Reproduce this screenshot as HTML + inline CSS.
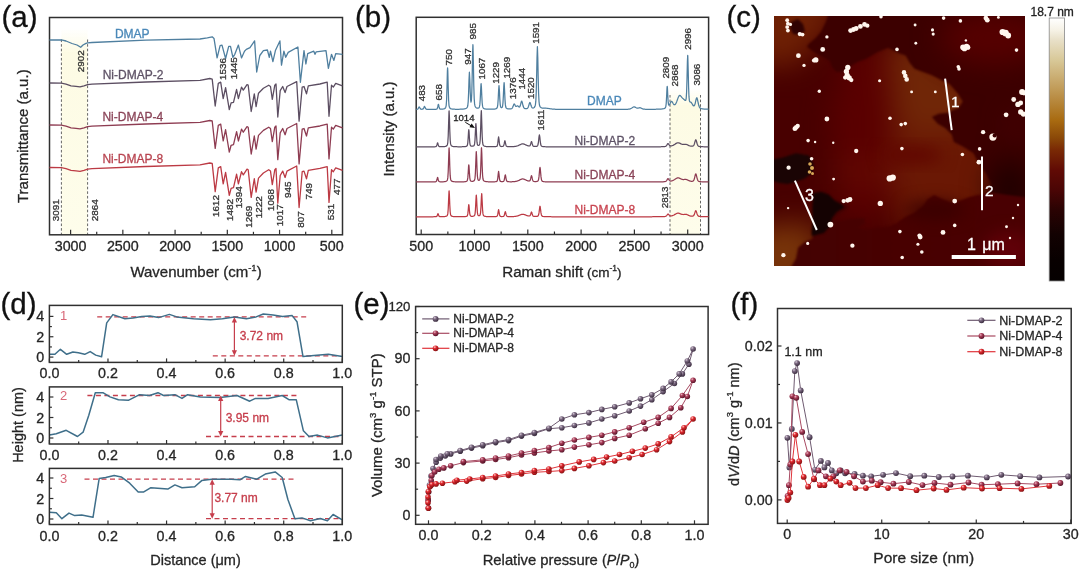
<!DOCTYPE html>
<html><head><meta charset="utf-8"><style>
html,body{margin:0;padding:0;background:#fff;width:1080px;height:574px;overflow:hidden}
svg{display:block;will-change:transform}
text{font-family:"Liberation Sans", sans-serif}
</style></head><body>
<svg width="1080" height="574" viewBox="0 0 1080 574">
<text x="1.50" y="27.40" font-size="29.5" text-anchor="start" fill="#111" stroke="#111" stroke-width="0.3">(a)</text>
<text x="355.00" y="27.40" font-size="29.5" text-anchor="start" fill="#111" stroke="#111" stroke-width="0.3">(b)</text>
<text x="726.40" y="27.40" font-size="29.5" text-anchor="start" fill="#111" stroke="#111" stroke-width="0.3">(c)</text>
<text x="0.50" y="314.20" font-size="29.5" text-anchor="start" fill="#111" stroke="#111" stroke-width="0.3">(d)</text>
<text x="353.50" y="314.20" font-size="29.5" text-anchor="start" fill="#111" stroke="#111" stroke-width="0.3">(e)</text>
<text x="730.50" y="314.20" font-size="29.5" text-anchor="start" fill="#111" stroke="#111" stroke-width="0.3">(f)</text>
<defs><linearGradient id="yb" x1="0" y1="0" x2="0" y2="1"><stop offset="0" stop-color="#fdfbe4" stop-opacity="0"/><stop offset="0.12" stop-color="#fdfbe4" stop-opacity="1"/><stop offset="1" stop-color="#fefdeb" stop-opacity="1"/></linearGradient></defs>
<rect x="61.40" y="28.00" width="26.20" height="206.80" fill="url(#yb)" stroke="none" stroke-width="1.0"/>
<line x1="61.40" y1="39.50" x2="61.40" y2="234.80" stroke="#555" stroke-width="0.9" stroke-dasharray="2.6,2"/>
<line x1="87.60" y1="39.50" x2="87.60" y2="234.80" stroke="#555" stroke-width="0.9" stroke-dasharray="2.6,2"/>
<rect x="49.50" y="17.50" width="293.00" height="217.30" fill="none" stroke="#303030" stroke-width="1.5"/>
<line x1="331.80" y1="234.80" x2="331.80" y2="229.80" stroke="#303030" stroke-width="1.2"/>
<line x1="305.68" y1="234.80" x2="305.68" y2="231.80" stroke="#303030" stroke-width="1.2"/>
<line x1="279.56" y1="234.80" x2="279.56" y2="229.80" stroke="#303030" stroke-width="1.2"/>
<line x1="253.44" y1="234.80" x2="253.44" y2="231.80" stroke="#303030" stroke-width="1.2"/>
<line x1="227.32" y1="234.80" x2="227.32" y2="229.80" stroke="#303030" stroke-width="1.2"/>
<line x1="201.20" y1="234.80" x2="201.20" y2="231.80" stroke="#303030" stroke-width="1.2"/>
<line x1="175.08" y1="234.80" x2="175.08" y2="229.80" stroke="#303030" stroke-width="1.2"/>
<line x1="148.96" y1="234.80" x2="148.96" y2="231.80" stroke="#303030" stroke-width="1.2"/>
<line x1="122.84" y1="234.80" x2="122.84" y2="229.80" stroke="#303030" stroke-width="1.2"/>
<line x1="96.72" y1="234.80" x2="96.72" y2="231.80" stroke="#303030" stroke-width="1.2"/>
<line x1="70.60" y1="234.80" x2="70.60" y2="229.80" stroke="#303030" stroke-width="1.2"/>
<text x="331.80" y="251.40" font-size="14.3" text-anchor="middle" fill="#262626" stroke="#262626" stroke-width="0.3">500</text>
<text x="279.56" y="251.40" font-size="14.3" text-anchor="middle" fill="#262626" stroke="#262626" stroke-width="0.3">1000</text>
<text x="227.32" y="251.40" font-size="14.3" text-anchor="middle" fill="#262626" stroke="#262626" stroke-width="0.3">1500</text>
<text x="175.08" y="251.40" font-size="14.3" text-anchor="middle" fill="#262626" stroke="#262626" stroke-width="0.3">2000</text>
<text x="122.84" y="251.40" font-size="14.3" text-anchor="middle" fill="#262626" stroke="#262626" stroke-width="0.3">2500</text>
<text x="70.60" y="251.40" font-size="14.3" text-anchor="middle" fill="#262626" stroke="#262626" stroke-width="0.3">3000</text>
<text x="130.40" y="277.30" font-size="15" text-anchor="start" fill="#262626" stroke="#262626" stroke-width="0.3">Wavenumber (cm<tspan font-size="9.5" dy="-6">-1</tspan><tspan dy="6">)</tspan></text>
<text x="28.20" y="136.20" font-size="15" text-anchor="middle" fill="#262626" stroke="#262626" stroke-width="0.3" transform="rotate(-90 28.20 136.20)">Transmittance (a.u.)</text>
<polyline points="49.50,40.00 61.40,39.80 66.00,41.00 72.00,43.50 77.00,45.00 80.70,47.30 83.00,45.00 86.00,43.40 87.60,42.80 92.00,42.50 146.00,40.20 200.00,39.00 207.30,37.80 212.20,36.80 214.00,38.40 217.10,57.90 220.10,45.70 222.00,45.10 223.80,51.80 225.60,58.50 228.70,46.30 230.50,46.30 232.90,57.30 234.80,54.30 238.40,45.10 241.50,57.90 244.50,51.20 246.30,49.40 250.00,47.60 254.60,40.90 256.70,72.00 259.80,55.50 263.40,50.60 267.40,50.00 269.30,57.30 270.50,51.20 272.90,61.60 275.40,50.60 279.90,40.90 281.50,65.20 283.90,51.20 285.70,57.30 288.20,52.40 297.90,47.00 300.40,82.30 304.00,50.60 305.90,64.00 307.70,53.70 313.80,51.20 315.00,54.30 316.20,51.80 326.00,50.60 328.40,68.30 331.50,54.30 333.90,60.40 335.70,53.70 342.50,54.30" fill="none" stroke="#4f7f9f" stroke-width="1.3" stroke-linejoin="round"/>
<polyline points="49.50,83.00 61.40,83.20 66.00,84.20 71.00,85.80 76.00,86.40 80.00,86.80 84.00,85.80 87.60,84.60 92.00,84.20 146.00,82.00 200.00,80.40 209.80,78.50 212.20,79.10 215.20,106.00 218.30,83.40 220.70,82.20 223.20,98.70 225.60,87.70 229.30,109.60 231.10,102.90 233.50,102.30 236.60,89.50 238.40,98.70 241.50,87.10 243.30,90.10 247.00,84.60 248.20,85.20 251.20,111.50 254.30,93.80 256.10,106.60 258.50,93.20 263.40,88.30 268.70,85.20 270.50,86.50 272.30,99.30 274.80,85.20 276.00,84.00 277.80,117.00 280.20,90.70 282.70,86.50 285.10,92.60 287.00,86.50 296.70,81.60 299.10,121.20 302.20,87.10 304.00,86.50 306.50,93.80 308.30,85.90 319.90,84.00 327.20,82.20 329.00,116.30 331.50,85.20 333.30,87.10 335.70,83.40 342.50,85.90" fill="none" stroke="#5c4e62" stroke-width="1.3" stroke-linejoin="round"/>
<polyline points="49.50,125.00 61.40,125.20 66.00,126.20 71.00,127.80 76.00,128.40 80.00,128.80 84.00,127.80 87.60,126.60 92.00,126.20 146.00,124.00 200.00,122.40 209.80,120.50 212.20,120.99 215.20,148.43 218.30,125.38 220.70,124.15 223.20,140.98 225.60,129.76 229.30,152.10 231.10,145.27 233.50,144.66 236.60,131.60 238.40,140.98 241.50,129.15 243.30,132.21 247.00,126.60 248.20,127.21 251.20,154.04 254.30,135.99 256.10,149.04 258.50,135.37 263.40,130.38 268.70,127.21 270.50,128.54 272.30,141.60 274.80,127.21 276.00,125.99 277.80,159.65 280.20,132.82 282.70,128.54 285.10,134.76 287.00,128.54 296.70,123.54 299.10,163.93 302.20,129.15 304.00,128.54 306.50,135.99 308.30,127.93 319.90,125.99 327.20,124.15 329.00,158.94 331.50,127.21 333.30,129.15 335.70,125.38 342.50,127.93" fill="none" stroke="#8e3c52" stroke-width="1.3" stroke-linejoin="round"/>
<polyline points="49.50,167.50 61.40,167.70 66.00,168.70 71.00,170.30 76.00,170.90 80.00,171.30 84.00,170.30 87.60,169.10 92.00,168.70 146.00,166.50 200.00,164.90 209.80,163.00 212.20,163.33 215.20,191.57 218.30,167.84 220.70,166.59 223.20,183.91 225.60,172.36 229.30,195.35 231.10,188.32 233.50,187.69 236.60,174.25 238.40,183.91 241.50,171.73 243.30,174.88 247.00,169.10 248.20,169.74 251.20,197.35 254.30,178.76 256.10,192.20 258.50,178.13 263.40,172.99 268.70,169.74 270.50,171.10 272.30,184.54 274.80,169.74 276.00,168.47 277.80,203.12 280.20,175.51 282.70,171.10 285.10,177.50 287.00,171.10 296.70,165.95 299.10,207.53 302.20,171.73 304.00,171.10 306.50,178.76 308.30,170.47 319.90,168.47 327.20,166.59 329.00,202.39 331.50,169.74 333.30,171.73 335.70,167.84 342.50,170.47" fill="none" stroke="#bc3a44" stroke-width="1.3" stroke-linejoin="round"/>
<text x="114.90" y="37.80" font-size="12" text-anchor="start" fill="#4a88b8" stroke="#4a88b8" stroke-width="0.3">DMAP</text>
<text x="102.70" y="78.70" font-size="12" text-anchor="start" fill="#5e5266" stroke="#5e5266" stroke-width="0.3">Ni-DMAP-2</text>
<text x="102.40" y="120.90" font-size="12" text-anchor="start" fill="#8a4458" stroke="#8a4458" stroke-width="0.3">Ni-DMAP-4</text>
<text x="102.40" y="162.70" font-size="12" text-anchor="start" fill="#b84450" stroke="#b84450" stroke-width="0.3">Ni-DMAP-8</text>
<text x="59.00" y="221.20" font-size="9.9" text-anchor="start" fill="#333" stroke="#333" stroke-width="0.3" transform="rotate(-90 59.00 221.20)">3091</text>
<text x="98.00" y="221.20" font-size="9.9" text-anchor="start" fill="#333" stroke="#333" stroke-width="0.3" transform="rotate(-90 98.00 221.20)">2864</text>
<text x="84.50" y="72.30" font-size="9.9" text-anchor="start" fill="#333" stroke="#333" stroke-width="0.3" transform="rotate(-90 84.50 72.30)">2902</text>
<text x="218.80" y="216.90" font-size="9.9" text-anchor="start" fill="#333" stroke="#333" stroke-width="0.3" transform="rotate(-90 218.80 216.90)">1612</text>
<text x="232.90" y="220.90" font-size="9.9" text-anchor="start" fill="#333" stroke="#333" stroke-width="0.3" transform="rotate(-90 232.90 220.90)">1482</text>
<text x="242.30" y="208.20" font-size="9.9" text-anchor="start" fill="#333" stroke="#333" stroke-width="0.3" transform="rotate(-90 242.30 208.20)">1394</text>
<text x="252.30" y="227.70" font-size="9.9" text-anchor="start" fill="#333" stroke="#333" stroke-width="0.3" transform="rotate(-90 252.30 227.70)">1269</text>
<text x="262.00" y="218.30" font-size="9.9" text-anchor="start" fill="#333" stroke="#333" stroke-width="0.3" transform="rotate(-90 262.00 218.30)">1222</text>
<text x="274.50" y="210.90" font-size="9.9" text-anchor="start" fill="#333" stroke="#333" stroke-width="0.3" transform="rotate(-90 274.50 210.90)">1068</text>
<text x="283.20" y="226.30" font-size="9.9" text-anchor="start" fill="#333" stroke="#333" stroke-width="0.3" transform="rotate(-90 283.20 226.30)">1017</text>
<text x="291.30" y="198.10" font-size="9.9" text-anchor="start" fill="#333" stroke="#333" stroke-width="0.3" transform="rotate(-90 291.30 198.10)">945</text>
<text x="304.00" y="227.70" font-size="9.9" text-anchor="start" fill="#333" stroke="#333" stroke-width="0.3" transform="rotate(-90 304.00 227.70)">807</text>
<text x="312.00" y="199.50" font-size="9.9" text-anchor="start" fill="#333" stroke="#333" stroke-width="0.3" transform="rotate(-90 312.00 199.50)">749</text>
<text x="333.60" y="220.30" font-size="9.9" text-anchor="start" fill="#333" stroke="#333" stroke-width="0.3" transform="rotate(-90 333.60 220.30)">531</text>
<text x="339.60" y="195.00" font-size="9.9" text-anchor="start" fill="#333" stroke="#333" stroke-width="0.3" transform="rotate(-90 339.60 195.00)">477</text>
<text x="226.20" y="79.90" font-size="9.9" text-anchor="start" fill="#333" stroke="#333" stroke-width="0.3" transform="rotate(-90 226.20 79.90)">1536</text>
<text x="237.20" y="79.30" font-size="9.9" text-anchor="start" fill="#333" stroke="#333" stroke-width="0.3" transform="rotate(-90 237.20 79.30)">1445</text>
<rect x="670.00" y="88.00" width="30.50" height="146.50" fill="url(#yb)" stroke="none" stroke-width="1.0"/>
<line x1="670.00" y1="95.00" x2="670.00" y2="234.50" stroke="#555" stroke-width="0.9" stroke-dasharray="2.6,2"/>
<line x1="700.50" y1="95.00" x2="700.50" y2="234.50" stroke="#555" stroke-width="0.9" stroke-dasharray="2.6,2"/>
<rect x="416.20" y="17.30" width="292.40" height="217.20" fill="none" stroke="#303030" stroke-width="1.5"/>
<line x1="421.20" y1="234.50" x2="421.20" y2="229.50" stroke="#303030" stroke-width="1.2"/>
<line x1="447.85" y1="234.50" x2="447.85" y2="231.50" stroke="#303030" stroke-width="1.2"/>
<line x1="474.50" y1="234.50" x2="474.50" y2="229.50" stroke="#303030" stroke-width="1.2"/>
<line x1="501.15" y1="234.50" x2="501.15" y2="231.50" stroke="#303030" stroke-width="1.2"/>
<line x1="527.80" y1="234.50" x2="527.80" y2="229.50" stroke="#303030" stroke-width="1.2"/>
<line x1="554.45" y1="234.50" x2="554.45" y2="231.50" stroke="#303030" stroke-width="1.2"/>
<line x1="581.10" y1="234.50" x2="581.10" y2="229.50" stroke="#303030" stroke-width="1.2"/>
<line x1="607.75" y1="234.50" x2="607.75" y2="231.50" stroke="#303030" stroke-width="1.2"/>
<line x1="634.40" y1="234.50" x2="634.40" y2="229.50" stroke="#303030" stroke-width="1.2"/>
<line x1="661.05" y1="234.50" x2="661.05" y2="231.50" stroke="#303030" stroke-width="1.2"/>
<line x1="687.70" y1="234.50" x2="687.70" y2="229.50" stroke="#303030" stroke-width="1.2"/>
<text x="421.20" y="251.40" font-size="14.3" text-anchor="middle" fill="#262626" stroke="#262626" stroke-width="0.3">500</text>
<text x="474.50" y="251.40" font-size="14.3" text-anchor="middle" fill="#262626" stroke="#262626" stroke-width="0.3">1000</text>
<text x="527.80" y="251.40" font-size="14.3" text-anchor="middle" fill="#262626" stroke="#262626" stroke-width="0.3">1500</text>
<text x="581.10" y="251.40" font-size="14.3" text-anchor="middle" fill="#262626" stroke="#262626" stroke-width="0.3">2000</text>
<text x="634.40" y="251.40" font-size="14.3" text-anchor="middle" fill="#262626" stroke="#262626" stroke-width="0.3">2500</text>
<text x="687.70" y="251.40" font-size="14.3" text-anchor="middle" fill="#262626" stroke="#262626" stroke-width="0.3">3000</text>
<text x="502.20" y="277.40" font-size="15.2" text-anchor="start" fill="#262626" stroke="#262626" stroke-width="0.3">Raman shift<tspan font-size="13.5"> (cm</tspan><tspan font-size="8.5" dy="-6">-1</tspan><tspan font-size="13.5" dy="6">)</tspan></text>
<text x="393.70" y="129.00" font-size="15" text-anchor="middle" fill="#262626" stroke="#262626" stroke-width="0.3" transform="rotate(-90 393.70 129.00)">Intensity (a.u.)</text>
<polyline points="416.20,109.39 416.60,109.36 417.00,109.32 417.40,109.23 417.80,109.01 418.20,108.55 418.60,107.80 419.00,107.07 419.20,106.94 419.40,107.06 419.80,107.78 420.20,108.52 420.60,108.97 421.00,109.17 421.40,109.24 421.80,109.26 422.20,109.24 422.60,109.17 423.00,108.97 423.40,108.51 423.80,107.69 424.20,106.75 424.50,106.44 424.60,106.47 425.00,107.21 425.40,108.16 425.80,108.81 426.20,109.12 426.60,109.26 427.00,109.31 427.40,109.35 427.80,109.37 428.20,109.38 428.60,109.39 429.00,109.40 429.40,109.40 429.80,109.40 430.20,109.40 430.60,109.41 431.00,109.40 431.40,109.40 431.80,109.40 432.20,109.40 432.60,109.39 433.00,109.39 433.40,109.38 433.80,109.38 434.20,109.37 434.60,109.35 435.00,109.33 435.40,109.31 435.80,109.28 436.20,109.22 436.60,109.13 437.00,108.90 437.40,108.23 437.80,106.69 438.20,104.75 438.40,104.37 438.60,104.74 439.00,106.66 439.40,108.18 439.80,108.84 440.20,109.05 440.60,109.13 441.00,109.15 441.40,109.16 441.80,109.15 442.20,109.13 442.60,109.10 443.00,109.05 443.40,108.99 443.80,108.90 444.20,108.78 444.60,108.61 445.00,108.36 445.40,107.96 445.80,107.24 446.20,105.37 446.60,99.80 447.00,87.08 447.40,71.08 447.60,67.93 447.80,71.08 448.20,87.07 448.60,99.80 449.00,105.37 449.40,107.23 449.80,107.96 450.20,108.35 450.60,108.60 451.00,108.78 451.40,108.90 451.80,108.99 452.20,109.05 452.60,109.10 453.00,109.14 453.40,109.17 453.80,109.20 454.20,109.22 454.60,109.23 455.00,109.25 455.40,109.25 455.80,109.26 456.20,109.27 456.60,109.27 457.00,109.27 457.40,109.27 457.80,109.27 458.20,109.26 458.60,109.26 459.00,109.25 459.40,109.25 459.80,109.24 460.20,109.23 460.60,109.21 461.00,109.20 461.40,109.18 461.80,109.16 462.20,109.13 462.60,109.11 463.00,109.07 463.40,109.03 463.80,108.99 464.20,108.93 464.60,108.86 465.00,108.77 465.40,108.66 465.80,108.51 466.20,108.32 466.60,108.05 467.00,107.66 467.40,106.98 467.80,105.48 468.20,101.58 468.60,92.97 469.00,80.10 469.40,72.24 469.80,79.57 470.20,91.83 470.60,99.63 471.00,102.13 471.40,100.31 471.80,92.42 472.20,75.29 472.60,52.84 472.90,44.71 473.00,45.76 473.40,64.22 473.80,85.76 474.20,98.54 474.60,103.89 475.00,105.91 475.40,106.83 475.80,107.37 476.20,107.72 476.60,107.95 477.00,108.10 477.40,108.18 477.80,108.20 478.20,108.15 478.60,108.02 479.00,107.72 479.40,106.97 479.80,104.90 480.20,99.87 480.60,91.35 481.00,84.06 481.10,83.66 481.40,86.96 481.80,96.01 482.20,102.99 482.60,106.39 483.00,107.69 483.40,108.22 483.80,108.50 484.20,108.69 484.60,108.81 485.00,108.91 485.40,108.98 485.80,109.03 486.20,109.08 486.60,109.11 487.00,109.14 487.40,109.16 487.80,109.18 488.20,109.19 488.60,109.20 489.00,109.21 489.40,109.21 489.80,109.22 490.20,109.22 490.60,109.22 491.00,109.22 491.40,109.21 491.80,109.20 492.20,109.19 492.60,109.18 493.00,109.16 493.40,109.14 493.80,109.11 494.20,109.08 494.60,109.03 495.00,108.97 495.40,108.89 495.80,108.78 496.20,108.63 496.60,108.40 497.00,107.99 497.40,107.05 497.80,104.55 498.20,98.99 498.60,90.67 499.00,85.65 499.40,90.60 499.80,98.84 500.20,104.31 500.60,106.70 501.00,107.50 501.40,107.71 501.80,107.65 502.20,107.26 502.60,106.02 503.00,102.58 503.40,95.40 503.80,86.05 504.10,82.66 504.20,83.09 504.60,90.71 505.00,99.62 505.40,104.90 505.80,107.11 506.20,107.94 506.60,108.32 507.00,108.54 507.40,108.69 507.80,108.79 508.20,108.86 508.60,108.91 509.00,108.94 509.40,108.95 509.80,108.95 510.20,108.94 510.60,108.91 511.00,108.85 511.40,108.74 511.80,108.52 512.20,108.14 512.60,107.52 513.00,106.61 513.40,105.50 513.80,104.46 514.20,103.95 514.60,104.25 515.00,105.05 515.40,105.83 515.80,106.32 516.20,106.43 516.60,106.25 517.00,105.97 517.40,105.79 517.50,105.79 517.80,105.89 518.20,106.23 518.60,106.65 519.00,106.98 519.40,107.04 519.80,106.70 520.20,105.85 520.60,104.48 521.00,102.83 521.40,101.45 521.70,101.08 521.80,101.13 522.20,102.14 522.60,103.84 523.00,105.52 523.40,106.83 523.80,107.71 524.20,108.22 524.60,108.49 525.00,108.63 525.40,108.70 525.80,108.72 526.20,108.71 526.60,108.66 527.00,108.55 527.40,108.33 527.80,107.91 528.20,107.20 528.60,106.13 529.00,104.75 529.40,103.37 529.80,102.55 529.90,102.50 530.20,102.81 530.60,103.94 531.00,105.32 531.40,106.50 531.80,107.32 532.20,107.79 532.60,108.00 533.00,108.03 533.40,107.95 533.80,107.77 534.20,107.47 534.60,107.03 535.00,106.30 535.40,104.86 535.80,101.42 536.20,93.32 536.60,77.95 537.00,57.79 537.40,46.68 537.80,57.76 538.20,77.90 538.60,93.25 539.00,101.33 539.40,104.74 539.80,106.16 540.20,106.87 540.60,107.31 541.00,107.60 541.40,107.79 541.80,107.93 542.20,108.02 542.60,108.07 543.00,108.11 543.40,108.13 543.80,108.15 544.20,108.16 544.60,108.16 545.00,108.17 545.40,108.18 545.80,108.20 546.00,108.21 546.20,108.22 546.60,108.25 547.00,108.29 547.40,108.34 547.80,108.39 548.20,108.44 548.60,108.50 549.00,108.56 549.40,108.63 549.80,108.69 550.20,108.75 550.60,108.81 551.00,108.86 551.40,108.92 551.80,108.97 552.20,109.01 552.60,109.06 553.00,109.10 553.40,109.13 553.80,109.16 554.20,109.19 554.60,109.22 555.00,109.24 555.40,109.26 555.80,109.28 556.20,109.30 556.60,109.31 557.00,109.33 557.40,109.34 557.80,109.35 558.20,109.35 558.60,109.36 559.00,109.37 559.40,109.37 559.80,109.38 560.20,109.38 560.60,109.39 561.00,109.39 561.40,109.40 561.80,109.40 562.20,109.40 562.60,109.41 563.00,109.41 563.40,109.41 563.80,109.41 564.20,109.42 564.60,109.42 565.00,109.42 565.40,109.42 565.80,109.42 566.20,109.43 566.60,109.43 567.00,109.43 567.40,109.43 567.80,109.43 568.20,109.43 568.60,109.43 569.00,109.44 569.40,109.44 569.80,109.44 570.20,109.44 570.60,109.44 571.00,109.44 571.40,109.44 571.80,109.44 572.20,109.44 572.60,109.45 573.00,109.45 573.40,109.45 573.80,109.45 574.20,109.45 574.60,109.45 575.00,109.45 575.40,109.45 575.80,109.45 576.20,109.45 576.60,109.45 577.00,109.45 577.40,109.45 577.80,109.45 578.20,109.45 578.60,109.45 579.00,109.45 579.40,109.46 579.80,109.46 580.20,109.46 580.60,109.46 581.00,109.46 581.40,109.46 581.80,109.46 582.20,109.46 582.60,109.46 583.00,109.46 583.40,109.46 583.80,109.46 584.20,109.46 584.60,109.46 585.00,109.46 585.40,109.46 585.80,109.46 586.20,109.46 586.60,109.46 587.00,109.46 587.40,109.46 587.80,109.46 588.20,109.46 588.60,109.46 589.00,109.46 589.40,109.46 589.80,109.46 590.20,109.46 590.60,109.46 591.00,109.46 591.40,109.46 591.80,109.46 592.20,109.46 592.60,109.46 593.00,109.46 593.40,109.46 593.80,109.46 594.20,109.46 594.60,109.46 595.00,109.46 595.40,109.46 595.80,109.46 596.20,109.46 596.60,109.46 597.00,109.46 597.40,109.46 597.80,109.46 598.20,109.46 598.60,109.46 599.00,109.46 599.40,109.46 599.80,109.46 600.20,109.46 600.60,109.46 601.00,109.46 601.40,109.46 601.80,109.46 602.20,109.46 602.60,109.46 603.00,109.46 603.40,109.46 603.80,109.46 604.20,109.46 604.60,109.46 605.00,109.46 605.40,109.46 605.80,109.46 606.20,109.45 606.60,109.45 607.00,109.45 607.40,109.45 607.80,109.45 608.20,109.45 608.60,109.45 609.00,109.45 609.40,109.45 609.80,109.45 610.20,109.45 610.60,109.45 611.00,109.45 611.40,109.45 611.80,109.45 612.20,109.45 612.60,109.45 613.00,109.44 613.40,109.44 613.80,109.44 614.20,109.44 614.60,109.44 615.00,109.44 615.40,109.44 615.80,109.44 616.20,109.44 616.60,109.43 617.00,109.43 617.40,109.43 617.80,109.43 618.20,109.43 618.60,109.43 619.00,109.42 619.40,109.42 619.80,109.42 620.20,109.42 620.60,109.41 621.00,109.41 621.40,109.41 621.80,109.40 622.20,109.40 622.60,109.40 623.00,109.39 623.40,109.39 623.80,109.38 624.20,109.37 624.60,109.37 625.00,109.36 625.40,109.35 625.80,109.34 626.20,109.33 626.60,109.32 627.00,109.30 627.40,109.28 627.80,109.26 628.20,109.22 628.60,109.18 629.00,109.12 629.40,109.04 629.80,108.93 630.20,108.80 630.60,108.64 631.00,108.44 631.40,108.22 631.80,107.97 632.20,107.70 632.60,107.43 633.00,107.19 633.40,107.00 633.80,106.89 634.00,106.87 634.20,106.88 634.60,106.96 635.00,107.13 635.40,107.34 635.80,107.57 636.20,107.78 636.60,107.96 637.00,108.08 637.40,108.15 637.80,108.15 638.20,108.09 638.60,108.00 639.00,107.88 639.40,107.78 639.80,107.72 640.00,107.73 640.20,107.76 640.60,107.87 641.00,108.05 641.40,108.26 641.80,108.46 642.20,108.65 642.60,108.81 643.00,108.95 643.40,109.05 643.80,109.12 644.20,109.17 644.60,109.21 645.00,109.24 645.40,109.26 645.80,109.27 646.20,109.28 646.60,109.29 647.00,109.29 647.40,109.30 647.80,109.30 648.20,109.30 648.60,109.31 649.00,109.31 649.40,109.31 649.80,109.31 650.20,109.31 650.60,109.30 651.00,109.30 651.40,109.30 651.80,109.30 652.20,109.30 652.60,109.29 653.00,109.29 653.40,109.28 653.80,109.28 654.20,109.27 654.60,109.27 655.00,109.26 655.40,109.25 655.80,109.25 656.20,109.24 656.60,109.23 657.00,109.22 657.40,109.21 657.80,109.20 658.20,109.18 658.60,109.17 659.00,109.16 659.40,109.14 659.80,109.12 660.20,109.10 660.60,109.07 661.00,109.05 661.40,109.01 661.80,108.98 662.20,108.94 662.60,108.88 663.00,108.82 663.40,108.75 663.80,108.65 664.20,108.53 664.60,108.35 665.00,108.10 665.40,107.66 665.80,106.60 666.20,103.57 666.60,96.71 667.00,88.09 667.20,86.32 667.40,87.88 667.80,96.08 668.20,102.44 668.60,104.87 669.00,105.21 669.40,104.79 669.80,104.09 670.20,103.24 670.60,102.40 671.00,101.71 671.40,101.34 671.50,101.31 671.80,101.38 672.20,101.81 672.60,102.47 673.00,103.20 673.40,103.87 673.80,104.38 674.20,104.68 674.60,104.75 675.00,104.58 675.40,104.19 675.80,103.59 676.20,102.82 676.60,101.89 677.00,100.86 677.40,99.77 677.80,98.66 678.20,97.60 678.60,96.69 679.00,95.98 679.40,95.55 679.80,95.41 680.20,95.54 680.60,95.87 681.00,96.33 681.40,96.83 681.80,97.32 682.20,97.78 682.60,98.18 683.00,98.55 683.40,98.89 683.80,99.25 684.00,99.44 684.20,99.63 684.60,100.00 685.00,100.33 685.40,100.49 685.80,100.16 686.20,98.28 686.60,92.22 687.00,79.04 687.40,61.69 687.70,55.41 687.80,56.23 688.20,70.62 688.60,87.27 689.00,96.93 689.40,100.68 689.80,101.76 690.20,102.01 690.60,102.09 691.00,102.29 691.40,102.69 691.80,103.29 692.20,104.00 692.60,104.69 693.00,105.29 693.40,105.70 693.80,105.86 694.20,105.67 694.60,105.07 695.00,103.99 695.40,102.48 695.80,100.70 696.20,98.99 696.60,97.91 696.80,97.79 697.00,97.98 697.40,99.19 697.80,101.04 698.20,103.00 698.60,104.73 699.00,106.09 699.40,107.06 699.80,107.71 700.20,108.12 700.60,108.38 701.00,108.55 701.40,108.67 701.80,108.76 702.20,108.84 702.60,108.89 703.00,108.94 703.40,108.99 703.80,109.02 704.20,109.06 704.60,109.08 705.00,109.11 705.40,109.13 705.80,109.15 706.20,109.17 706.60,109.19 707.00,109.20 707.40,109.22 707.80,109.23 708.20,109.24 708.60,109.25" fill="none" stroke="#4f7f9f" stroke-width="1.25" stroke-linejoin="round"/>
<polyline points="416.20,146.89 416.60,146.88 417.00,146.88 417.40,146.88 417.80,146.88 418.20,146.88 418.60,146.88 419.00,146.88 419.40,146.88 419.80,146.88 420.20,146.88 420.60,146.88 421.00,146.88 421.40,146.88 421.80,146.88 422.20,146.88 422.60,146.88 423.00,146.88 423.40,146.88 423.80,146.88 424.20,146.88 424.60,146.88 425.00,146.87 425.40,146.87 425.80,146.87 426.20,146.87 426.60,146.87 427.00,146.87 427.40,146.87 427.80,146.87 428.20,146.87 428.60,146.86 429.00,146.86 429.40,146.86 429.80,146.86 430.20,146.86 430.60,146.85 431.00,146.85 431.40,146.85 431.80,146.84 432.20,146.84 432.60,146.83 433.00,146.83 433.40,146.82 433.80,146.81 434.20,146.80 434.60,146.78 435.00,146.75 435.40,146.71 435.80,146.64 436.20,146.46 436.60,145.92 437.00,144.69 437.40,143.14 437.60,142.84 437.80,143.14 438.20,144.67 438.60,145.90 439.00,146.43 439.40,146.60 439.80,146.67 440.20,146.70 440.60,146.71 441.00,146.72 441.40,146.72 441.80,146.72 442.20,146.71 442.60,146.70 443.00,146.68 443.40,146.66 443.80,146.63 444.20,146.59 444.60,146.54 445.00,146.48 445.40,146.40 445.80,146.28 446.20,146.12 446.60,145.87 447.00,145.48 447.40,144.71 447.80,142.57 448.20,136.40 448.60,123.84 449.00,111.59 449.10,110.87 449.40,116.58 449.80,130.85 450.20,140.21 450.60,143.93 451.00,145.17 451.40,145.70 451.80,146.00 452.20,146.20 452.60,146.34 453.00,146.44 453.40,146.51 453.80,146.56 454.20,146.61 454.60,146.64 455.00,146.67 455.40,146.69 455.80,146.70 456.20,146.72 456.60,146.73 457.00,146.74 457.40,146.75 457.80,146.75 458.20,146.76 458.60,146.76 459.00,146.76 459.40,146.76 459.80,146.76 460.20,146.76 460.60,146.76 461.00,146.76 461.40,146.75 461.80,146.75 462.20,146.74 462.60,146.73 463.00,146.72 463.40,146.70 463.80,146.68 464.20,146.66 464.60,146.63 465.00,146.59 465.40,146.54 465.80,146.46 466.20,146.35 466.60,146.19 467.00,145.88 467.40,145.11 467.80,142.82 468.20,137.60 468.60,131.04 468.80,129.74 469.00,131.03 469.40,137.57 469.80,142.76 470.20,145.03 470.60,145.77 471.00,146.04 471.40,146.16 471.80,146.22 472.20,146.23 472.60,146.20 473.00,146.12 473.40,145.99 473.80,145.75 474.20,145.26 474.60,143.89 475.00,139.94 475.40,131.90 475.80,124.05 475.90,123.59 476.20,127.22 476.60,136.29 477.00,142.23 477.40,144.53 477.80,145.23 478.20,145.43 478.60,145.43 479.00,145.25 479.40,144.81 479.80,143.64 480.20,139.97 480.60,130.64 481.00,116.40 481.30,110.71 481.40,111.43 481.80,123.70 482.20,136.28 482.60,142.46 483.00,144.61 483.40,145.39 483.80,145.79 484.20,146.04 484.60,146.21 485.00,146.33 485.40,146.42 485.80,146.49 486.20,146.54 486.60,146.58 487.00,146.61 487.40,146.64 487.80,146.66 488.20,146.68 488.60,146.69 489.00,146.70 489.40,146.71 489.80,146.72 490.20,146.73 490.60,146.73 491.00,146.74 491.40,146.74 491.80,146.74 492.20,146.74 492.60,146.74 493.00,146.73 493.40,146.73 493.80,146.72 494.20,146.70 494.60,146.69 495.00,146.66 495.40,146.63 495.80,146.58 496.20,146.50 496.60,146.37 497.00,146.11 497.40,145.32 497.80,143.18 498.20,139.36 498.60,136.79 499.00,139.35 499.40,143.16 499.80,145.29 500.20,146.07 500.60,146.32 501.00,146.43 501.40,146.49 501.80,146.51 502.20,146.50 502.60,146.46 503.00,146.36 503.40,146.07 503.80,145.28 504.20,143.65 504.60,141.53 504.90,140.76 505.00,140.86 505.40,142.58 505.80,144.60 506.20,145.79 506.60,146.29 507.00,146.47 507.40,146.56 507.80,146.61 508.20,146.64 508.60,146.66 509.00,146.67 509.40,146.68 509.80,146.68 510.20,146.69 510.60,146.69 511.00,146.68 511.40,146.68 511.80,146.67 512.20,146.66 512.60,146.64 513.00,146.62 513.40,146.60 513.80,146.57 514.20,146.54 514.60,146.49 515.00,146.44 515.40,146.38 515.80,146.31 516.20,146.22 516.60,146.12 517.00,146.01 517.40,145.88 517.80,145.74 518.20,145.58 518.60,145.40 519.00,145.22 519.40,145.03 519.80,144.83 520.20,144.63 520.60,144.44 521.00,144.26 521.40,144.10 521.80,143.98 522.20,143.89 522.60,143.85 522.70,143.85 523.00,143.86 523.40,143.92 523.80,144.02 524.20,144.16 524.60,144.33 525.00,144.51 525.40,144.70 525.80,144.89 526.20,145.08 526.60,145.26 527.00,145.43 527.40,145.58 527.80,145.71 528.20,145.82 528.60,145.91 529.00,145.96 529.40,145.95 529.80,145.81 530.20,145.35 530.60,144.32 531.00,142.79 531.40,141.60 531.50,141.54 531.80,142.10 532.20,143.69 532.60,145.08 533.00,145.87 533.40,146.22 533.80,146.37 534.20,146.43 534.60,146.46 535.00,146.47 535.40,146.47 535.80,146.44 536.20,146.40 536.60,146.32 537.00,146.19 537.40,145.93 537.80,145.27 538.20,143.73 538.60,140.78 539.00,136.92 539.40,134.79 539.80,136.93 540.20,140.81 540.60,143.76 541.00,145.32 541.40,145.99 541.80,146.27 542.20,146.42 542.60,146.51 543.00,146.58 543.40,146.63 543.80,146.66 544.20,146.69 544.60,146.72 545.00,146.73 545.40,146.75 545.80,146.76 546.20,146.77 546.60,146.78 547.00,146.79 547.40,146.80 547.80,146.81 548.20,146.81 548.60,146.82 549.00,146.82 549.40,146.82 549.80,146.83 550.20,146.83 550.60,146.83 551.00,146.84 551.40,146.84 551.80,146.84 552.20,146.84 552.60,146.85 553.00,146.85 553.40,146.85 553.80,146.85 554.20,146.85 554.60,146.85 555.00,146.86 555.40,146.86 555.80,146.86 556.20,146.86 556.60,146.86 557.00,146.86 557.40,146.86 557.80,146.86 558.20,146.86 558.60,146.87 559.00,146.87 559.40,146.87 559.80,146.87 560.20,146.87 560.60,146.87 561.00,146.87 561.40,146.87 561.80,146.87 562.20,146.87 562.60,146.87 563.00,146.87 563.40,146.87 563.80,146.87 564.20,146.87 564.60,146.87 565.00,146.88 565.40,146.88 565.80,146.88 566.20,146.88 566.60,146.88 567.00,146.88 567.40,146.88 567.80,146.88 568.20,146.88 568.60,146.88 569.00,146.88 569.40,146.88 569.80,146.88 570.20,146.88 570.60,146.88 571.00,146.88 571.40,146.88 571.80,146.88 572.20,146.88 572.60,146.88 573.00,146.88 573.40,146.88 573.80,146.88 574.20,146.88 574.60,146.88 575.00,146.88 575.40,146.88 575.80,146.88 576.20,146.88 576.60,146.88 577.00,146.88 577.40,146.88 577.80,146.88 578.20,146.88 578.60,146.88 579.00,146.88 579.40,146.88 579.80,146.88 580.20,146.88 580.60,146.88 581.00,146.88 581.40,146.88 581.80,146.88 582.20,146.88 582.60,146.88 583.00,146.89 583.40,146.89 583.80,146.89 584.20,146.89 584.60,146.89 585.00,146.89 585.40,146.89 585.80,146.89 586.20,146.89 586.60,146.89 587.00,146.89 587.40,146.89 587.80,146.89 588.20,146.89 588.60,146.89 589.00,146.89 589.40,146.89 589.80,146.89 590.20,146.89 590.60,146.89 591.00,146.89 591.40,146.89 591.80,146.89 592.20,146.89 592.60,146.89 593.00,146.89 593.40,146.89 593.80,146.89 594.20,146.89 594.60,146.89 595.00,146.89 595.40,146.89 595.80,146.89 596.20,146.89 596.60,146.89 597.00,146.89 597.40,146.89 597.80,146.89 598.20,146.89 598.60,146.89 599.00,146.89 599.40,146.89 599.80,146.89 600.20,146.89 600.60,146.89 601.00,146.89 601.40,146.89 601.80,146.89 602.20,146.89 602.60,146.89 603.00,146.89 603.40,146.89 603.80,146.89 604.20,146.89 604.60,146.89 605.00,146.89 605.40,146.89 605.80,146.89 606.20,146.89 606.60,146.89 607.00,146.89 607.40,146.89 607.80,146.89 608.20,146.89 608.60,146.89 609.00,146.89 609.40,146.89 609.80,146.89 610.20,146.89 610.60,146.89 611.00,146.89 611.40,146.89 611.80,146.89 612.20,146.89 612.60,146.89 613.00,146.89 613.40,146.89 613.80,146.89 614.20,146.89 614.60,146.89 615.00,146.89 615.40,146.89 615.80,146.89 616.20,146.88 616.60,146.88 617.00,146.88 617.40,146.88 617.80,146.88 618.20,146.88 618.60,146.88 619.00,146.88 619.40,146.88 619.80,146.88 620.20,146.88 620.60,146.88 621.00,146.88 621.40,146.88 621.80,146.88 622.20,146.88 622.60,146.88 623.00,146.88 623.40,146.88 623.80,146.88 624.20,146.88 624.60,146.88 625.00,146.88 625.40,146.88 625.80,146.88 626.20,146.88 626.60,146.88 627.00,146.88 627.40,146.88 627.80,146.88 628.20,146.88 628.60,146.88 629.00,146.88 629.40,146.88 629.80,146.88 630.20,146.88 630.60,146.88 631.00,146.88 631.40,146.88 631.80,146.88 632.20,146.88 632.60,146.88 633.00,146.88 633.40,146.88 633.80,146.88 634.20,146.88 634.60,146.88 635.00,146.88 635.40,146.87 635.80,146.87 636.20,146.87 636.60,146.87 637.00,146.87 637.40,146.87 637.80,146.87 638.20,146.87 638.60,146.87 639.00,146.87 639.40,146.87 639.80,146.87 640.20,146.87 640.60,146.87 641.00,146.87 641.40,146.87 641.80,146.87 642.20,146.87 642.60,146.87 643.00,146.86 643.40,146.86 643.80,146.86 644.20,146.86 644.60,146.86 645.00,146.86 645.40,146.86 645.80,146.86 646.20,146.86 646.60,146.86 647.00,146.86 647.40,146.86 647.80,146.85 648.20,146.85 648.60,146.85 649.00,146.85 649.40,146.85 649.80,146.85 650.20,146.85 650.60,146.84 651.00,146.84 651.40,146.84 651.80,146.84 652.20,146.84 652.60,146.84 653.00,146.83 653.40,146.83 653.80,146.83 654.20,146.83 654.60,146.82 655.00,146.82 655.40,146.82 655.80,146.82 656.20,146.81 656.60,146.81 657.00,146.81 657.40,146.80 657.80,146.80 658.20,146.79 658.60,146.79 659.00,146.78 659.40,146.78 659.80,146.77 660.20,146.76 660.60,146.76 661.00,146.75 661.40,146.74 661.80,146.73 662.20,146.72 662.60,146.70 663.00,146.69 663.40,146.67 663.80,146.64 664.20,146.61 664.60,146.57 665.00,146.51 665.40,146.41 665.80,146.23 666.20,145.92 666.60,145.45 667.00,144.83 667.40,144.16 667.80,143.67 668.00,143.59 668.20,143.64 668.60,144.07 669.00,144.69 669.40,145.24 669.80,145.63 670.20,145.86 670.60,145.95 671.00,145.94 671.40,145.88 671.80,145.78 672.20,145.65 672.60,145.50 673.00,145.32 673.40,145.12 673.80,144.90 674.20,144.66 674.60,144.41 675.00,144.15 675.40,143.88 675.80,143.62 676.20,143.37 676.60,143.15 677.00,142.97 677.40,142.84 677.80,142.76 678.00,142.75 678.20,142.75 678.60,142.80 679.00,142.90 679.40,143.05 679.80,143.23 680.20,143.43 680.60,143.63 681.00,143.83 681.40,144.00 681.80,144.16 682.20,144.28 682.60,144.36 683.00,144.41 683.40,144.43 683.80,144.42 684.20,144.39 684.60,144.35 685.00,144.32 685.40,144.30 685.80,144.32 686.00,144.35 686.20,144.39 686.60,144.50 687.00,144.64 687.40,144.82 687.80,145.01 688.20,145.21 688.60,145.40 689.00,145.58 689.40,145.74 689.80,145.88 690.20,145.99 690.60,146.08 691.00,146.15 691.40,146.20 691.80,146.22 692.20,146.21 692.60,146.16 693.00,146.03 693.40,145.77 693.80,145.27 694.20,144.42 694.60,143.20 695.00,141.70 695.40,140.32 695.80,139.73 696.20,140.34 696.60,141.74 697.00,143.26 697.40,144.51 697.80,145.38 698.20,145.91 698.60,146.21 699.00,146.37 699.40,146.47 699.80,146.54 700.20,146.58 700.60,146.62 701.00,146.65 701.40,146.67 701.80,146.70 702.20,146.71 702.60,146.73 703.00,146.74 703.40,146.75 703.80,146.76 704.20,146.77 704.60,146.78 705.00,146.78 705.40,146.79 705.80,146.80 706.20,146.80 706.60,146.81 707.00,146.81 707.40,146.81 707.80,146.82 708.20,146.82 708.60,146.82" fill="none" stroke="#5c4e62" stroke-width="1.25" stroke-linejoin="round"/>
<polyline points="416.20,181.98 416.60,181.98 417.00,181.98 417.40,181.98 417.80,181.98 418.20,181.98 418.60,181.98 419.00,181.98 419.40,181.98 419.80,181.98 420.20,181.98 420.60,181.98 421.00,181.98 421.40,181.98 421.80,181.98 422.20,181.98 422.60,181.98 423.00,181.98 423.40,181.98 423.80,181.98 424.20,181.98 424.60,181.98 425.00,181.97 425.40,181.97 425.80,181.97 426.20,181.97 426.60,181.97 427.00,181.97 427.40,181.97 427.80,181.97 428.20,181.97 428.60,181.96 429.00,181.96 429.40,181.96 429.80,181.96 430.20,181.96 430.60,181.95 431.00,181.95 431.40,181.95 431.80,181.94 432.20,181.94 432.60,181.93 433.00,181.92 433.40,181.92 433.80,181.90 434.20,181.89 434.60,181.87 435.00,181.84 435.40,181.79 435.80,181.71 436.20,181.51 436.60,180.90 437.00,179.52 437.40,177.78 437.60,177.44 437.80,177.78 438.20,179.51 438.60,180.88 439.00,181.48 439.40,181.68 439.80,181.75 440.20,181.79 440.60,181.81 441.00,181.82 441.40,181.82 441.80,181.82 442.20,181.81 442.60,181.80 443.00,181.79 443.40,181.76 443.80,181.74 444.20,181.70 444.60,181.66 445.00,181.60 445.40,181.52 445.80,181.41 446.20,181.25 446.60,181.02 447.00,180.65 447.40,179.93 447.80,177.91 448.20,172.08 448.60,160.22 449.00,148.64 449.10,147.97 449.40,153.36 449.80,166.84 450.20,175.68 450.60,179.19 451.00,180.36 451.40,180.86 451.80,181.15 452.20,181.34 452.60,181.46 453.00,181.56 453.40,181.63 453.80,181.68 454.20,181.72 454.60,181.75 455.00,181.77 455.40,181.79 455.80,181.81 456.20,181.82 456.60,181.83 457.00,181.84 457.40,181.85 457.80,181.85 458.20,181.86 458.60,181.86 459.00,181.86 459.40,181.86 459.80,181.86 460.20,181.86 460.60,181.86 461.00,181.85 461.40,181.85 461.80,181.84 462.20,181.84 462.60,181.83 463.00,181.81 463.40,181.80 463.80,181.78 464.20,181.76 464.60,181.73 465.00,181.69 465.40,181.63 465.80,181.56 466.20,181.45 466.60,181.28 467.00,180.98 467.40,180.21 467.80,177.91 468.20,172.69 468.60,166.13 468.80,164.83 469.00,166.12 469.40,172.66 469.80,177.85 470.20,180.11 470.60,180.85 471.00,181.12 471.40,181.25 471.80,181.31 472.20,181.32 472.60,181.29 473.00,181.22 473.40,181.11 473.80,180.91 474.20,180.59 474.60,179.95 475.00,178.17 475.40,173.01 475.80,162.53 476.20,152.29 476.30,151.69 476.60,156.43 477.00,168.27 477.40,176.02 477.80,179.04 478.20,179.97 478.60,180.26 479.00,180.28 479.40,180.08 479.80,179.47 480.20,177.54 480.60,171.77 481.00,159.95 481.40,148.42 481.50,147.75 481.80,153.17 482.20,166.67 482.60,175.53 483.00,179.06 483.40,180.24 483.80,180.75 484.20,181.05 484.60,181.25 485.00,181.38 485.40,181.48 485.80,181.56 486.20,181.61 486.60,181.66 487.00,181.69 487.40,181.72 487.80,181.75 488.20,181.77 488.60,181.78 489.00,181.79 489.40,181.80 489.80,181.81 490.20,181.82 490.60,181.82 491.00,181.83 491.40,181.83 491.80,181.83 492.20,181.83 492.60,181.83 493.00,181.82 493.40,181.82 493.80,181.81 494.20,181.79 494.60,181.78 495.00,181.75 495.40,181.71 495.80,181.66 496.20,181.58 496.60,181.45 497.00,181.17 497.40,180.34 497.80,178.09 498.20,174.08 498.60,171.38 499.00,174.08 499.40,178.07 499.80,180.32 500.20,181.13 500.60,181.40 501.00,181.52 501.40,181.58 501.80,181.61 502.20,181.61 502.60,181.59 503.00,181.53 503.40,181.40 503.80,181.06 504.20,180.14 504.60,178.23 505.00,175.76 505.30,174.86 505.40,174.97 505.80,176.98 506.20,179.33 506.60,180.72 507.00,181.30 507.40,181.52 507.80,181.62 508.20,181.67 508.60,181.71 509.00,181.73 509.40,181.75 509.80,181.76 510.20,181.77 510.60,181.77 511.00,181.77 511.40,181.76 511.80,181.76 512.20,181.74 512.60,181.73 513.00,181.71 513.40,181.69 513.80,181.66 514.20,181.63 514.60,181.59 515.00,181.54 515.40,181.47 515.80,181.40 516.20,181.32 516.60,181.22 517.00,181.10 517.40,180.98 517.80,180.83 518.20,180.67 518.60,180.50 519.00,180.32 519.40,180.12 519.80,179.92 520.20,179.72 520.60,179.53 521.00,179.35 521.40,179.20 521.80,179.07 522.20,178.99 522.60,178.95 522.70,178.94 523.00,178.96 523.40,179.02 523.80,179.12 524.20,179.25 524.60,179.42 525.00,179.60 525.40,179.79 525.80,179.98 526.20,180.17 526.60,180.35 527.00,180.51 527.40,180.66 527.80,180.79 528.20,180.89 528.60,180.97 529.00,181.01 529.40,180.99 529.80,180.80 530.20,180.23 530.60,178.99 531.00,177.14 531.40,175.71 531.50,175.64 531.80,176.30 532.20,178.21 532.60,179.88 533.00,180.82 533.40,181.24 533.80,181.42 534.20,181.50 534.60,181.54 535.00,181.56 535.40,181.57 535.80,181.55 536.20,181.53 536.60,181.48 537.00,181.40 537.40,181.28 537.80,181.05 538.20,180.55 538.60,179.32 539.00,176.64 539.40,172.31 539.80,168.12 540.00,167.40 540.20,168.12 540.60,172.33 541.00,176.66 541.40,179.35 541.80,180.60 542.20,181.12 542.60,181.36 543.00,181.49 543.40,181.59 543.80,181.66 544.20,181.71 544.60,181.75 545.00,181.78 545.40,181.80 545.80,181.82 546.20,181.84 546.60,181.85 547.00,181.87 547.40,181.88 547.80,181.88 548.20,181.89 548.60,181.90 549.00,181.90 549.40,181.91 549.80,181.92 550.20,181.92 550.60,181.92 551.00,181.93 551.40,181.93 551.80,181.93 552.20,181.94 552.60,181.94 553.00,181.94 553.40,181.94 553.80,181.95 554.20,181.95 554.60,181.95 555.00,181.95 555.40,181.95 555.80,181.95 556.20,181.96 556.60,181.96 557.00,181.96 557.40,181.96 557.80,181.96 558.20,181.96 558.60,181.96 559.00,181.96 559.40,181.96 559.80,181.96 560.20,181.97 560.60,181.97 561.00,181.97 561.40,181.97 561.80,181.97 562.20,181.97 562.60,181.97 563.00,181.97 563.40,181.97 563.80,181.97 564.20,181.97 564.60,181.97 565.00,181.97 565.40,181.97 565.80,181.97 566.20,181.97 566.60,181.97 567.00,181.98 567.40,181.98 567.80,181.98 568.20,181.98 568.60,181.98 569.00,181.98 569.40,181.98 569.80,181.98 570.20,181.98 570.60,181.98 571.00,181.98 571.40,181.98 571.80,181.98 572.20,181.98 572.60,181.98 573.00,181.98 573.40,181.98 573.80,181.98 574.20,181.98 574.60,181.98 575.00,181.98 575.40,181.98 575.80,181.98 576.20,181.98 576.60,181.98 577.00,181.98 577.40,181.98 577.80,181.98 578.20,181.98 578.60,181.98 579.00,181.98 579.40,181.98 579.80,181.98 580.20,181.98 580.60,181.98 581.00,181.98 581.40,181.98 581.80,181.98 582.20,181.98 582.60,181.98 583.00,181.98 583.40,181.98 583.80,181.98 584.20,181.98 584.60,181.98 585.00,181.98 585.40,181.98 585.80,181.98 586.20,181.99 586.60,181.99 587.00,181.99 587.40,181.99 587.80,181.99 588.20,181.99 588.60,181.99 589.00,181.99 589.40,181.99 589.80,181.99 590.20,181.99 590.60,181.99 591.00,181.99 591.40,181.99 591.80,181.99 592.20,181.99 592.60,181.99 593.00,181.99 593.40,181.99 593.80,181.99 594.20,181.99 594.60,181.99 595.00,181.99 595.40,181.99 595.80,181.99 596.20,181.99 596.60,181.99 597.00,181.99 597.40,181.99 597.80,181.99 598.20,181.99 598.60,181.99 599.00,181.99 599.40,181.99 599.80,181.99 600.20,181.99 600.60,181.99 601.00,181.99 601.40,181.99 601.80,181.99 602.20,181.99 602.60,181.99 603.00,181.99 603.40,181.99 603.80,181.99 604.20,181.99 604.60,181.99 605.00,181.99 605.40,181.99 605.80,181.99 606.20,181.99 606.60,181.99 607.00,181.99 607.40,181.99 607.80,181.99 608.20,181.99 608.60,181.99 609.00,181.99 609.40,181.99 609.80,181.99 610.20,181.99 610.60,181.99 611.00,181.99 611.40,181.99 611.80,181.99 612.20,181.99 612.60,181.99 613.00,181.99 613.40,181.99 613.80,181.99 614.20,181.99 614.60,181.98 615.00,181.98 615.40,181.98 615.80,181.98 616.20,181.98 616.60,181.98 617.00,181.98 617.40,181.98 617.80,181.98 618.20,181.98 618.60,181.98 619.00,181.98 619.40,181.98 619.80,181.98 620.20,181.98 620.60,181.98 621.00,181.98 621.40,181.98 621.80,181.98 622.20,181.98 622.60,181.98 623.00,181.98 623.40,181.98 623.80,181.98 624.20,181.98 624.60,181.98 625.00,181.98 625.40,181.98 625.80,181.98 626.20,181.98 626.60,181.98 627.00,181.98 627.40,181.98 627.80,181.98 628.20,181.98 628.60,181.98 629.00,181.98 629.40,181.98 629.80,181.98 630.20,181.98 630.60,181.98 631.00,181.98 631.40,181.98 631.80,181.98 632.20,181.98 632.60,181.98 633.00,181.98 633.40,181.98 633.80,181.98 634.20,181.98 634.60,181.98 635.00,181.97 635.40,181.97 635.80,181.97 636.20,181.97 636.60,181.97 637.00,181.97 637.40,181.97 637.80,181.97 638.20,181.97 638.60,181.97 639.00,181.97 639.40,181.97 639.80,181.97 640.20,181.97 640.60,181.97 641.00,181.97 641.40,181.97 641.80,181.97 642.20,181.97 642.60,181.97 643.00,181.96 643.40,181.96 643.80,181.96 644.20,181.96 644.60,181.96 645.00,181.96 645.40,181.96 645.80,181.96 646.20,181.96 646.60,181.96 647.00,181.96 647.40,181.95 647.80,181.95 648.20,181.95 648.60,181.95 649.00,181.95 649.40,181.95 649.80,181.95 650.20,181.95 650.60,181.94 651.00,181.94 651.40,181.94 651.80,181.94 652.20,181.94 652.60,181.94 653.00,181.93 653.40,181.93 653.80,181.93 654.20,181.93 654.60,181.92 655.00,181.92 655.40,181.92 655.80,181.92 656.20,181.91 656.60,181.91 657.00,181.91 657.40,181.90 657.80,181.90 658.20,181.89 658.60,181.89 659.00,181.88 659.40,181.88 659.80,181.87 660.20,181.86 660.60,181.86 661.00,181.85 661.40,181.84 661.80,181.83 662.20,181.82 662.60,181.80 663.00,181.78 663.40,181.77 663.80,181.74 664.20,181.71 664.60,181.67 665.00,181.61 665.40,181.51 665.80,181.32 666.20,181.02 666.60,180.55 667.00,179.93 667.40,179.26 667.80,178.77 668.00,178.69 668.20,178.74 668.60,179.17 669.00,179.78 669.40,180.34 669.80,180.73 670.20,180.96 670.60,181.04 671.00,181.04 671.40,180.98 671.80,180.88 672.20,180.75 672.60,180.60 673.00,180.42 673.40,180.22 673.80,180.00 674.20,179.76 674.60,179.51 675.00,179.24 675.40,178.98 675.80,178.72 676.20,178.47 676.60,178.25 677.00,178.07 677.40,177.93 677.80,177.86 678.00,177.84 678.20,177.85 678.60,177.89 679.00,178.00 679.40,178.15 679.80,178.33 680.20,178.53 680.60,178.73 681.00,178.92 681.40,179.10 681.80,179.25 682.20,179.37 682.60,179.46 683.00,179.51 683.40,179.53 683.80,179.52 684.20,179.49 684.60,179.45 685.00,179.41 685.40,179.40 685.80,179.42 686.00,179.44 686.20,179.48 686.60,179.59 687.00,179.74 687.40,179.91 687.80,180.10 688.20,180.30 688.60,180.49 689.00,180.66 689.40,180.82 689.80,180.96 690.20,181.07 690.60,181.16 691.00,181.23 691.40,181.27 691.80,181.28 692.20,181.27 692.60,181.20 693.00,181.05 693.40,180.74 693.80,180.17 694.20,179.20 694.60,177.80 695.00,176.08 695.40,174.51 695.80,173.83 696.20,174.53 696.60,176.12 697.00,177.86 697.40,179.29 697.80,180.28 698.20,180.88 698.60,181.22 699.00,181.41 699.40,181.52 699.80,181.60 700.20,181.65 700.60,181.69 701.00,181.73 701.40,181.75 701.80,181.78 702.20,181.80 702.60,181.81 703.00,181.83 703.40,181.84 703.80,181.85 704.20,181.86 704.60,181.87 705.00,181.88 705.40,181.88 705.80,181.89 706.20,181.90 706.60,181.90 707.00,181.90 707.40,181.91 707.80,181.91 708.20,181.92 708.60,181.92" fill="none" stroke="#8e3c52" stroke-width="1.25" stroke-linejoin="round"/>
<polyline points="416.20,216.79 416.60,216.79 417.00,216.79 417.40,216.79 417.80,216.79 418.20,216.79 418.60,216.79 419.00,216.79 419.40,216.79 419.80,216.79 420.20,216.79 420.60,216.79 421.00,216.79 421.40,216.79 421.80,216.78 422.20,216.78 422.60,216.78 423.00,216.78 423.40,216.78 423.80,216.78 424.20,216.78 424.60,216.78 425.00,216.78 425.40,216.78 425.80,216.78 426.20,216.78 426.60,216.78 427.00,216.78 427.40,216.78 427.80,216.78 428.20,216.78 428.60,216.77 429.00,216.77 429.40,216.77 429.80,216.77 430.20,216.77 430.60,216.77 431.00,216.77 431.40,216.76 431.80,216.76 432.20,216.76 432.60,216.75 433.00,216.75 433.40,216.75 433.80,216.74 434.20,216.73 434.60,216.72 435.00,216.71 435.40,216.69 435.80,216.66 436.20,216.60 436.60,216.47 437.00,216.06 437.40,215.14 437.80,213.98 438.00,213.75 438.20,213.98 438.60,215.13 439.00,216.05 439.40,216.44 439.80,216.57 440.20,216.62 440.60,216.64 441.00,216.66 441.40,216.66 441.80,216.66 442.20,216.66 442.60,216.65 443.00,216.64 443.40,216.62 443.80,216.60 444.20,216.57 444.60,216.54 445.00,216.49 445.40,216.43 445.80,216.35 446.20,216.23 446.60,216.06 447.00,215.77 447.40,215.22 447.80,213.67 448.20,209.21 448.60,200.14 449.00,191.29 449.10,190.78 449.40,194.90 449.80,205.21 450.20,211.97 450.60,214.65 451.00,215.55 451.40,215.93 451.80,216.15 452.20,216.29 452.60,216.39 453.00,216.46 453.40,216.52 453.80,216.56 454.20,216.59 454.60,216.61 455.00,216.63 455.40,216.64 455.80,216.66 456.20,216.67 456.60,216.68 457.00,216.68 457.40,216.69 457.80,216.69 458.20,216.69 458.60,216.70 459.00,216.70 459.40,216.70 459.80,216.70 460.20,216.70 460.60,216.70 461.00,216.69 461.40,216.69 461.80,216.69 462.20,216.68 462.60,216.68 463.00,216.67 463.40,216.66 463.80,216.64 464.20,216.63 464.60,216.60 465.00,216.58 465.40,216.54 465.80,216.49 466.20,216.41 466.60,216.29 467.00,216.08 467.40,215.53 467.80,213.92 468.20,210.23 468.60,205.60 468.80,204.68 469.00,205.59 469.40,210.20 469.80,213.87 470.20,215.47 470.60,215.99 471.00,216.18 471.40,216.27 471.80,216.31 472.20,216.32 472.60,216.30 473.00,216.25 473.40,216.17 473.80,216.03 474.20,215.80 474.60,215.34 475.00,214.06 475.40,210.37 475.80,202.86 476.20,195.53 476.30,195.10 476.60,198.50 477.00,206.99 477.40,212.55 477.80,214.73 478.20,215.41 478.60,215.64 479.00,215.69 479.40,215.62 479.80,215.36 480.20,214.63 480.60,212.30 481.00,206.35 481.40,197.26 481.70,193.63 481.80,194.09 482.20,201.94 482.60,209.98 483.00,213.93 483.40,215.31 483.80,215.81 484.20,216.06 484.60,216.23 485.00,216.34 485.40,216.41 485.80,216.47 486.20,216.52 486.60,216.55 487.00,216.58 487.40,216.60 487.80,216.62 488.20,216.63 488.60,216.64 489.00,216.65 489.40,216.66 489.80,216.67 490.20,216.67 490.60,216.67 491.00,216.68 491.40,216.68 491.80,216.68 492.20,216.68 492.60,216.68 493.00,216.67 493.40,216.67 493.80,216.66 494.20,216.65 494.60,216.64 495.00,216.63 495.40,216.60 495.80,216.57 496.20,216.51 496.60,216.42 497.00,216.24 497.40,215.68 497.80,214.18 498.20,211.51 498.60,209.71 499.00,211.51 499.40,214.17 499.80,215.67 500.20,216.21 500.60,216.39 501.00,216.47 501.40,216.51 501.80,216.52 502.20,216.52 502.60,216.50 503.00,216.46 503.40,216.37 503.80,216.12 504.20,215.47 504.60,214.11 505.00,212.34 505.30,211.69 505.40,211.77 505.80,213.21 506.20,214.89 506.60,215.88 507.00,216.29 507.40,216.45 507.80,216.52 508.20,216.56 508.60,216.58 509.00,216.60 509.40,216.61 509.80,216.61 510.20,216.62 510.60,216.62 511.00,216.62 511.40,216.61 511.80,216.60 512.20,216.60 512.60,216.58 513.00,216.57 513.40,216.55 513.80,216.53 514.20,216.50 514.60,216.46 515.00,216.42 515.40,216.37 515.80,216.31 516.20,216.24 516.60,216.15 517.00,216.06 517.40,215.95 517.80,215.83 518.20,215.70 518.60,215.55 519.00,215.40 519.40,215.24 519.80,215.07 520.20,214.91 520.60,214.75 521.00,214.60 521.40,214.47 521.80,214.36 522.20,214.29 522.60,214.26 522.70,214.26 523.00,214.27 523.40,214.32 523.80,214.40 524.20,214.52 524.60,214.65 525.00,214.81 525.40,214.96 525.80,215.12 526.20,215.28 526.60,215.43 527.00,215.57 527.40,215.70 527.80,215.80 528.20,215.90 528.60,215.96 529.00,216.00 529.40,215.99 529.80,215.86 530.20,215.44 530.60,214.51 531.00,213.13 531.40,212.06 531.50,212.01 531.80,212.51 532.20,213.94 532.60,215.19 533.00,215.90 533.40,216.22 533.80,216.35 534.20,216.41 534.60,216.45 535.00,216.46 535.40,216.47 535.80,216.46 536.20,216.44 536.60,216.41 537.00,216.35 537.40,216.27 537.80,216.10 538.20,215.74 538.60,214.85 539.00,212.91 539.40,209.78 539.80,206.74 540.00,206.22 540.20,206.74 540.60,209.79 541.00,212.93 541.40,214.88 541.80,215.78 542.20,216.15 542.60,216.33 543.00,216.43 543.40,216.50 543.80,216.55 544.20,216.58 544.60,216.61 545.00,216.63 545.40,216.65 545.80,216.67 546.20,216.68 546.60,216.69 547.00,216.70 547.40,216.71 547.80,216.71 548.20,216.72 548.60,216.72 549.00,216.73 549.40,216.73 549.80,216.74 550.20,216.74 550.60,216.74 551.00,216.74 551.40,216.75 551.80,216.75 552.20,216.75 552.60,216.75 553.00,216.75 553.40,216.76 553.80,216.76 554.20,216.76 554.60,216.76 555.00,216.76 555.40,216.76 555.80,216.76 556.20,216.77 556.60,216.77 557.00,216.77 557.40,216.77 557.80,216.77 558.20,216.77 558.60,216.77 559.00,216.77 559.40,216.77 559.80,216.77 560.20,216.77 560.60,216.77 561.00,216.77 561.40,216.77 561.80,216.78 562.20,216.78 562.60,216.78 563.00,216.78 563.40,216.78 563.80,216.78 564.20,216.78 564.60,216.78 565.00,216.78 565.40,216.78 565.80,216.78 566.20,216.78 566.60,216.78 567.00,216.78 567.40,216.78 567.80,216.78 568.20,216.78 568.60,216.78 569.00,216.78 569.40,216.78 569.80,216.78 570.20,216.78 570.60,216.78 571.00,216.78 571.40,216.78 571.80,216.78 572.20,216.78 572.60,216.78 573.00,216.78 573.40,216.78 573.80,216.78 574.20,216.78 574.60,216.78 575.00,216.78 575.40,216.79 575.80,216.79 576.20,216.79 576.60,216.79 577.00,216.79 577.40,216.79 577.80,216.79 578.20,216.79 578.60,216.79 579.00,216.79 579.40,216.79 579.80,216.79 580.20,216.79 580.60,216.79 581.00,216.79 581.40,216.79 581.80,216.79 582.20,216.79 582.60,216.79 583.00,216.79 583.40,216.79 583.80,216.79 584.20,216.79 584.60,216.79 585.00,216.79 585.40,216.79 585.80,216.79 586.20,216.79 586.60,216.79 587.00,216.79 587.40,216.79 587.80,216.79 588.20,216.79 588.60,216.79 589.00,216.79 589.40,216.79 589.80,216.79 590.20,216.79 590.60,216.79 591.00,216.79 591.40,216.79 591.80,216.79 592.20,216.79 592.60,216.79 593.00,216.79 593.40,216.79 593.80,216.79 594.20,216.79 594.60,216.79 595.00,216.79 595.40,216.79 595.80,216.79 596.20,216.79 596.60,216.79 597.00,216.79 597.40,216.79 597.80,216.79 598.20,216.79 598.60,216.79 599.00,216.79 599.40,216.79 599.80,216.79 600.20,216.79 600.60,216.79 601.00,216.79 601.40,216.79 601.80,216.79 602.20,216.79 602.60,216.79 603.00,216.79 603.40,216.79 603.80,216.79 604.20,216.79 604.60,216.79 605.00,216.79 605.40,216.79 605.80,216.79 606.20,216.79 606.60,216.79 607.00,216.79 607.40,216.79 607.80,216.79 608.20,216.79 608.60,216.79 609.00,216.79 609.40,216.79 609.80,216.79 610.20,216.79 610.60,216.79 611.00,216.79 611.40,216.79 611.80,216.79 612.20,216.79 612.60,216.79 613.00,216.79 613.40,216.79 613.80,216.79 614.20,216.79 614.60,216.79 615.00,216.79 615.40,216.79 615.80,216.79 616.20,216.79 616.60,216.79 617.00,216.79 617.40,216.79 617.80,216.79 618.20,216.79 618.60,216.79 619.00,216.79 619.40,216.79 619.80,216.79 620.20,216.79 620.60,216.79 621.00,216.79 621.40,216.79 621.80,216.79 622.20,216.79 622.60,216.79 623.00,216.78 623.40,216.78 623.80,216.78 624.20,216.78 624.60,216.78 625.00,216.78 625.40,216.78 625.80,216.78 626.20,216.78 626.60,216.78 627.00,216.78 627.40,216.78 627.80,216.78 628.20,216.78 628.60,216.78 629.00,216.78 629.40,216.78 629.80,216.78 630.20,216.78 630.60,216.78 631.00,216.78 631.40,216.78 631.80,216.78 632.20,216.78 632.60,216.78 633.00,216.78 633.40,216.78 633.80,216.78 634.20,216.78 634.60,216.78 635.00,216.78 635.40,216.78 635.80,216.78 636.20,216.78 636.60,216.78 637.00,216.78 637.40,216.78 637.80,216.78 638.20,216.78 638.60,216.77 639.00,216.77 639.40,216.77 639.80,216.77 640.20,216.77 640.60,216.77 641.00,216.77 641.40,216.77 641.80,216.77 642.20,216.77 642.60,216.77 643.00,216.77 643.40,216.77 643.80,216.77 644.20,216.77 644.60,216.77 645.00,216.77 645.40,216.76 645.80,216.76 646.20,216.76 646.60,216.76 647.00,216.76 647.40,216.76 647.80,216.76 648.20,216.76 648.60,216.76 649.00,216.76 649.40,216.76 649.80,216.75 650.20,216.75 650.60,216.75 651.00,216.75 651.40,216.75 651.80,216.75 652.20,216.75 652.60,216.74 653.00,216.74 653.40,216.74 653.80,216.74 654.20,216.74 654.60,216.73 655.00,216.73 655.40,216.73 655.80,216.73 656.20,216.72 656.60,216.72 657.00,216.72 657.40,216.71 657.80,216.71 658.20,216.71 658.60,216.70 659.00,216.70 659.40,216.69 659.80,216.69 660.20,216.68 660.60,216.67 661.00,216.67 661.40,216.66 661.80,216.65 662.20,216.64 662.60,216.63 663.00,216.61 663.40,216.60 663.80,216.58 664.20,216.55 664.60,216.52 665.00,216.47 665.40,216.38 665.80,216.23 666.20,215.97 666.60,215.58 667.00,215.06 667.40,214.50 667.80,214.10 668.00,214.03 668.20,214.07 668.60,214.43 669.00,214.93 669.40,215.39 669.80,215.72 670.20,215.90 670.60,215.97 671.00,215.97 671.40,215.91 671.80,215.82 672.20,215.71 672.60,215.57 673.00,215.42 673.40,215.24 673.80,215.05 674.20,214.84 674.60,214.61 675.00,214.38 675.40,214.15 675.80,213.92 676.20,213.70 676.60,213.51 677.00,213.35 677.40,213.23 677.80,213.16 678.00,213.15 678.20,213.15 678.60,213.19 679.00,213.28 679.40,213.41 679.80,213.56 680.20,213.73 680.60,213.90 681.00,214.06 681.40,214.21 681.80,214.33 682.20,214.42 682.60,214.48 683.00,214.50 683.40,214.50 683.80,214.47 684.20,214.42 684.60,214.36 685.00,214.31 685.40,214.29 685.80,214.30 686.00,214.32 686.20,214.35 686.60,214.46 687.00,214.60 687.40,214.77 687.80,214.96 688.20,215.15 688.60,215.34 689.00,215.52 689.40,215.68 689.80,215.82 690.20,215.93 690.60,216.03 691.00,216.10 691.40,216.15 691.80,216.18 692.20,216.18 692.60,216.14 693.00,216.03 693.40,215.81 693.80,215.38 694.20,214.66 694.60,213.61 695.00,212.33 695.40,211.15 695.80,210.64 696.20,211.17 696.60,212.37 697.00,213.67 697.40,214.74 697.80,215.48 698.20,215.94 698.60,216.20 699.00,216.34 699.40,216.42 699.80,216.48 700.20,216.52 700.60,216.55 701.00,216.58 701.40,216.60 701.80,216.62 702.20,216.63 702.60,216.65 703.00,216.66 703.40,216.67 703.80,216.68 704.20,216.68 704.60,216.69 705.00,216.70 705.40,216.70 705.80,216.71 706.20,216.71 706.60,216.72 707.00,216.72 707.40,216.72 707.80,216.73 708.20,216.73 708.60,216.73" fill="none" stroke="#bc3a44" stroke-width="1.25" stroke-linejoin="round"/>
<text x="587.00" y="104.70" font-size="12" text-anchor="start" fill="#4a88b8" stroke="#4a88b8" stroke-width="0.3">DMAP</text>
<text x="574.50" y="144.50" font-size="12" text-anchor="start" fill="#5e5266" stroke="#5e5266" stroke-width="0.3">Ni-DMAP-2</text>
<text x="574.50" y="179.00" font-size="12" text-anchor="start" fill="#8a4458" stroke="#8a4458" stroke-width="0.3">Ni-DMAP-4</text>
<text x="574.50" y="213.50" font-size="12" text-anchor="start" fill="#c84450" stroke="#c84450" stroke-width="0.3">Ni-DMAP-8</text>
<text x="453.20" y="120.60" font-size="9.6" text-anchor="start" fill="#222" stroke="#222" stroke-width="0.3">1014</text>
<line x1="465.3" y1="122.3" x2="472.5" y2="126.6" stroke="#111" stroke-width="1"/>
<polygon points="475,128 469.5,127.2 471.6,123.6" fill="#111"/>
<text x="425.30" y="101.30" font-size="9.8" text-anchor="start" fill="#333" stroke="#333" stroke-width="0.3" transform="rotate(-90 425.30 101.30)">483</text>
<text x="441.90" y="100.40" font-size="9.8" text-anchor="start" fill="#333" stroke="#333" stroke-width="0.3" transform="rotate(-90 441.90 100.40)">658</text>
<text x="451.50" y="65.50" font-size="9.8" text-anchor="start" fill="#333" stroke="#333" stroke-width="0.3" transform="rotate(-90 451.50 65.50)">750</text>
<text x="470.60" y="64.70" font-size="9.8" text-anchor="start" fill="#333" stroke="#333" stroke-width="0.3" transform="rotate(-90 470.60 64.70)">947</text>
<text x="475.90" y="39.40" font-size="9.8" text-anchor="start" fill="#333" stroke="#333" stroke-width="0.3" transform="rotate(-90 475.90 39.40)">985</text>
<text x="484.60" y="79.50" font-size="9.8" text-anchor="start" fill="#333" stroke="#333" stroke-width="0.3" transform="rotate(-90 484.60 79.50)">1067</text>
<text x="499.40" y="83.80" font-size="9.8" text-anchor="start" fill="#333" stroke="#333" stroke-width="0.3" transform="rotate(-90 499.40 83.80)">1229</text>
<text x="509.90" y="78.60" font-size="9.8" text-anchor="start" fill="#333" stroke="#333" stroke-width="0.3" transform="rotate(-90 509.90 78.60)">1269</text>
<text x="516.30" y="99.20" font-size="9.8" text-anchor="start" fill="#333" stroke="#333" stroke-width="0.3" transform="rotate(-90 516.30 99.20)">1376</text>
<text x="525.30" y="89.60" font-size="9.8" text-anchor="start" fill="#333" stroke="#333" stroke-width="0.3" transform="rotate(-90 525.30 89.60)">1444</text>
<text x="533.70" y="99.00" font-size="9.8" text-anchor="start" fill="#333" stroke="#333" stroke-width="0.3" transform="rotate(-90 533.70 99.00)">1520</text>
<text x="539.50" y="43.80" font-size="9.8" text-anchor="start" fill="#333" stroke="#333" stroke-width="0.3" transform="rotate(-90 539.50 43.80)">1591</text>
<text x="544.00" y="130.50" font-size="9.8" text-anchor="start" fill="#333" stroke="#333" stroke-width="0.3" transform="rotate(-90 544.00 130.50)">1611</text>
<text x="668.90" y="78.60" font-size="9.8" text-anchor="start" fill="#333" stroke="#333" stroke-width="0.3" transform="rotate(-90 668.90 78.60)">2809</text>
<text x="677.60" y="86.40" font-size="9.8" text-anchor="start" fill="#333" stroke="#333" stroke-width="0.3" transform="rotate(-90 677.60 86.40)">2868</text>
<text x="691.50" y="49.80" font-size="9.8" text-anchor="start" fill="#333" stroke="#333" stroke-width="0.3" transform="rotate(-90 691.50 49.80)">2996</text>
<text x="699.90" y="85.50" font-size="9.8" text-anchor="start" fill="#333" stroke="#333" stroke-width="0.3" transform="rotate(-90 699.90 85.50)">3086</text>
<text x="668.00" y="208.30" font-size="9.8" text-anchor="start" fill="#333" stroke="#333" stroke-width="0.3" transform="rotate(-90 668.00 208.30)">2813</text>
<defs><clipPath id="afm"><rect x="774" y="16" width="251" height="250"/></clipPath><filter color-interpolation-filters="sRGB" id="bl1" x="-20%" y="-20%" width="140%" height="140%"><feGaussianBlur color-interpolation-filters="sRGB" stdDeviation="0.9"/></filter><filter color-interpolation-filters="sRGB" id="bl3" x="-50%" y="-50%" width="200%" height="200%"><feGaussianBlur color-interpolation-filters="sRGB" stdDeviation="3"/></filter><filter color-interpolation-filters="sRGB" id="bl8" x="-50%" y="-50%" width="200%" height="200%"><feGaussianBlur color-interpolation-filters="sRGB" stdDeviation="8"/></filter><filter color-interpolation-filters="sRGB" id="bl14" x="-80%" y="-80%" width="260%" height="260%"><feGaussianBlur color-interpolation-filters="sRGB" stdDeviation="14"/></filter><filter color-interpolation-filters="sRGB" id="bs" x="-50%" y="-50%" width="200%" height="200%"><feGaussianBlur color-interpolation-filters="sRGB" stdDeviation="0.7"/></filter><linearGradient id="cbar" x1="0" y1="0" x2="0" y2="1"><stop offset="0" stop-color="#ffffff"/><stop offset="0.046" stop-color="#f6f2e6"/><stop offset="0.084" stop-color="#e8e0c8"/><stop offset="0.16" stop-color="#d8c898"/><stop offset="0.31" stop-color="#b88a40"/><stop offset="0.39" stop-color="#a86a10"/><stop offset="0.456" stop-color="#8a4808"/><stop offset="0.5" stop-color="#7a2a05"/><stop offset="0.58" stop-color="#600a05"/><stop offset="0.654" stop-color="#4a0505"/><stop offset="0.73" stop-color="#2a0303"/><stop offset="0.825" stop-color="#120202"/><stop offset="0.92" stop-color="#080000"/><stop offset="1" stop-color="#050000"/></linearGradient></defs>
<g clip-path="url(#afm)">
<rect x="774.00" y="16.00" width="251.00" height="250.00" fill="#480000" stroke="none" stroke-width="1.0"/>
<g filter="url(#bl14)">
<polygon points="750.0,-10.0 840.0,-10.0 830.0,31.0 812.0,47.0 795.0,66.0 750.0,64.0" fill="#6e2004"/>
<polygon points="845.0,50.0 900.0,40.0 920.0,60.0 900.0,150.0 880.0,225.0 840.0,215.0 830.0,120.0" fill="#5a0000"/>
<polygon points="835.0,158.0 905.0,158.0 905.0,185.0 835.0,185.0" fill="#620802"/>
<polygon points="750.0,228.0 812.0,222.0 820.0,245.0 810.0,290.0 750.0,290.0" fill="#783409"/>
<polygon points="890.0,40.0 920.0,40.0 1000.0,100.0 1010.0,200.0 990.0,230.0 900.0,232.0 890.0,180.0 892.0,100.0" fill="#6a1804"/>
<polygon points="886.0,40.0 920.0,40.0 980.0,90.0 970.0,132.0 905.0,132.0 892.0,100.0" fill="#702607"/>
</g>
<ellipse cx="912" cy="155" rx="30" ry="9" fill="#600600" filter="url(#bl8)"/>
<polygon points="827.8,10.0 827.8,16.0 825.6,22.6 821.2,31.4 815.7,37.9 809.1,43.4 806.9,46.7 812.4,51.1 817.9,54.4 824.5,57.7 830.0,61.0 832.2,67.6 836.6,72.0 844.2,70.9 849.7,66.5 857.4,62.1 866.2,58.8 877.2,52.2 888.1,47.8 899.0,53.3 905.6,55.5 910.0,63.2 914.4,68.7 923.1,72.0 931.9,75.3 940.7,79.7 949.5,84.0 957.2,92.8 962.7,101.6 958.3,108.2 951.7,110.4 949.5,112.6 938.5,113.7 931.9,117.0 937.4,123.5 945.1,127.9 951.7,134.5 953.9,142.0 962.7,146.6 973.6,153.2 978.0,162.0 986.8,175.1 991.2,183.9 989.0,192.7 1030.0,198.0 1030.0,10.0" fill="#3c0000" filter="url(#bl1)"/>
<g filter="url(#bl14)">
<ellipse cx="1010" cy="188" rx="20" ry="28" fill="#1e0000"/>
<ellipse cx="995" cy="38" rx="55" ry="26" fill="#560000"/>
<ellipse cx="1018" cy="125" rx="10" ry="14" fill="#480004"/>
</g>
<defs><linearGradient id="d2g" x1="0" y1="0" x2="1" y2="0"><stop offset="0" stop-color="#440303"/><stop offset="0.45" stop-color="#480000"/><stop offset="1" stop-color="#4a0003"/></linearGradient></defs>
<polygon points="814.6,192.7 824.5,191.6 833.3,199.3 839.8,201.5 846.4,203.7 848.6,208.0 839.8,214.6 834.4,219.0 839.8,221.2 850.8,219.0 864.0,217.9 865.1,223.4 857.4,227.8 866.2,230.0 877.2,227.8 888.1,226.7 896.9,223.4 899.0,221.2 905.6,216.8 914.4,212.4 923.1,205.8 927.5,199.3 934.1,194.9 942.9,199.3 951.7,202.6 960.5,200.4 969.2,197.1 978.0,194.9 989.0,192.7 1030.0,198.0 1030.0,270.0 791.6,270.0 791.6,266.0 796.0,258.5 798.1,247.5 804.7,242.1 812.4,238.8 813.5,232.2 814.6,223.4 813.5,212.4 815.7,201.5" fill="url(#d2g)" filter="url(#bl1)"/>
<g filter="url(#bl8)">
<ellipse cx="1008" cy="250" rx="24" ry="18" fill="#600008"/>
<ellipse cx="935" cy="210" rx="30" ry="8" fill="#380000"/>
</g>
<polygon points="813.2,193.2 821.0,191.7 828.9,194.8 835.1,201.1 841.4,204.2 844.5,207.3 836.7,212.0 832.0,218.3 830.0,226.0 824.0,233.0 812.0,236.0 811.6,232.4 812.4,221.5 812.4,207.3" fill="#140202" filter="url(#bl1)"/>
<polygon points="770.0,159.8 782.8,157.6 796.0,153.2 809.1,155.4 813.5,164.1 812.4,172.9 804.7,178.4 796.0,181.7 787.2,183.9 778.4,182.8 770.0,179.5" fill="#1a0404" filter="url(#bl1)"/>
<polygon points="791.0,22.0 798.0,19.0 803.0,24.0 805.0,31.0 800.0,35.0 793.0,34.0 790.0,28.0" fill="#300202" filter="url(#bl1)"/>
<g filter="url(#bs)">
<circle cx="787.2" cy="20.2" r="1.92" fill="#fff6ee"/>
<circle cx="787.9" cy="23.7" r="1.92" fill="#fff6ee"/>
<circle cx="787.2" cy="27.1" r="1.92" fill="#fff6ee"/>
<circle cx="787.9" cy="30.6" r="1.92" fill="#fff6ee"/>
<circle cx="790.5" cy="24.4" r="1.56" fill="#fff6ee"/>
<circle cx="799.8" cy="34.1" r="2.16" fill="#fff6ee"/>
<circle cx="802.5" cy="34.6" r="1.92" fill="#fff6ee"/>
<circle cx="850.6" cy="30.6" r="2.40" fill="#fff6ee"/>
<circle cx="853.5" cy="29.5" r="2.40" fill="#fff6ee"/>
<circle cx="856.2" cy="28.5" r="2.40" fill="#fff6ee"/>
<circle cx="860.4" cy="26.4" r="2.40" fill="#fff6ee"/>
<circle cx="864.5" cy="24.4" r="2.40" fill="#fff6ee"/>
<circle cx="867.3" cy="25.7" r="2.16" fill="#fff6ee"/>
<circle cx="822.7" cy="49.4" r="2.40" fill="#fff6ee"/>
<circle cx="815.8" cy="59.9" r="2.64" fill="#fff6ee"/>
<circle cx="813.8" cy="60.5" r="1.92" fill="#fff6ee"/>
<circle cx="798.4" cy="55.7" r="2.40" fill="#fff6ee"/>
<circle cx="804" cy="65.4" r="1.68" fill="#fff6ee"/>
<circle cx="847.8" cy="67.5" r="2.64" fill="#fff6ee"/>
<circle cx="846.4" cy="71.5" r="2.64" fill="#fff6ee"/>
<circle cx="847.2" cy="75.3" r="2.64" fill="#fff6ee"/>
<circle cx="849.2" cy="77.8" r="2.64" fill="#fff6ee"/>
<circle cx="845.2" cy="77.6" r="2.16" fill="#fff6ee"/>
<circle cx="851.3" cy="80.1" r="2.16" fill="#fff6ee"/>
<circle cx="826.9" cy="36.9" r="1.68" fill="#fff6ee"/>
<circle cx="819.3" cy="91.2" r="1.68" fill="#fff6ee"/>
<circle cx="943.6" cy="18.1" r="1.80" fill="#fff6ee"/>
<circle cx="960.4" cy="20.9" r="1.80" fill="#fff6ee"/>
<circle cx="915.1" cy="25" r="1.44" fill="#fff6ee"/>
<circle cx="932.5" cy="29.9" r="1.56" fill="#fff6ee"/>
<circle cx="933.2" cy="34.1" r="1.56" fill="#fff6ee"/>
<circle cx="915.8" cy="43.2" r="1.44" fill="#fff6ee"/>
<circle cx="897" cy="49.4" r="1.80" fill="#fff6ee"/>
<circle cx="963.1" cy="47.3" r="2.88" fill="#fff6ee"/>
<circle cx="966.6" cy="46.6" r="2.88" fill="#fff6ee"/>
<circle cx="964.5" cy="48.7" r="2.64" fill="#fff6ee"/>
<circle cx="968" cy="47.5" r="2.40" fill="#fff6ee"/>
<circle cx="965.9" cy="40.4" r="1.20" fill="#fff6ee"/>
<circle cx="958.3" cy="66.8" r="1.80" fill="#fff6ee"/>
<circle cx="959" cy="68.9" r="1.80" fill="#fff6ee"/>
<circle cx="904" cy="72.4" r="2.28" fill="#fff6ee"/>
<circle cx="905.3" cy="75.9" r="2.28" fill="#fff6ee"/>
<circle cx="906.7" cy="79.4" r="2.28" fill="#fff6ee"/>
<circle cx="879.6" cy="80.8" r="1.56" fill="#fff6ee"/>
<circle cx="935.3" cy="91.9" r="1.44" fill="#fff6ee"/>
<circle cx="911.6" cy="91.9" r="1.44" fill="#fff6ee"/>
<circle cx="881" cy="16.7" r="1.80" fill="#fff6ee"/>
<circle cx="985.9" cy="18.1" r="2.40" fill="#fff6ee"/>
<circle cx="987.3" cy="20.2" r="2.40" fill="#fff6ee"/>
<circle cx="998.4" cy="17.4" r="1.44" fill="#fff6ee"/>
<circle cx="1002.6" cy="32" r="3.12" fill="#fff6ee"/>
<circle cx="1005.5" cy="33" r="3.36" fill="#fff6ee"/>
<circle cx="1008.2" cy="35.5" r="2.88" fill="#fff6ee"/>
<circle cx="1016.5" cy="50.1" r="1.80" fill="#fff6ee"/>
<circle cx="1022.1" cy="91.9" r="3.00" fill="#fff6ee"/>
<circle cx="1024" cy="93" r="2.40" fill="#fff6ee"/>
<circle cx="796.3" cy="127.3" r="2.40" fill="#fff6ee"/>
<circle cx="794.9" cy="128.7" r="2.40" fill="#fff6ee"/>
<circle cx="797.7" cy="125.9" r="2.16" fill="#fff6ee"/>
<circle cx="826.9" cy="119" r="2.40" fill="#fff6ee"/>
<circle cx="808.1" cy="140.6" r="1.80" fill="#fff6ee"/>
<circle cx="815.1" cy="142" r="1.20" fill="#fff6ee"/>
<circle cx="833.2" cy="142.7" r="1.20" fill="#fff6ee"/>
<circle cx="856.2" cy="151" r="2.16" fill="#fff6ee"/>
<circle cx="788.6" cy="167.7" r="2.16" fill="#fff6ee"/>
<circle cx="811.6" cy="158.7" r="1.80" fill="#fff6ee"/>
<circle cx="890" cy="118.3" r="1.80" fill="#fff6ee"/>
<circle cx="901.2" cy="124.6" r="1.80" fill="#fff6ee"/>
<circle cx="905.3" cy="123.6" r="1.80" fill="#fff6ee"/>
<circle cx="901.9" cy="148.6" r="1.80" fill="#fff6ee"/>
<circle cx="962.4" cy="154.5" r="1.80" fill="#fff6ee"/>
<circle cx="1006.1" cy="114.8" r="2.40" fill="#fff6ee"/>
<circle cx="1013.7" cy="99.5" r="2.40" fill="#fff6ee"/>
<circle cx="1017.9" cy="104.4" r="2.64" fill="#fff6ee"/>
<circle cx="1020.7" cy="103" r="2.40" fill="#fff6ee"/>
<circle cx="1020.7" cy="112" r="2.64" fill="#fff6ee"/>
<circle cx="1023.5" cy="114.1" r="2.64" fill="#fff6ee"/>
<circle cx="983.1" cy="132.2" r="2.16" fill="#fff6ee"/>
<circle cx="979.6" cy="148.9" r="1.80" fill="#fff6ee"/>
<circle cx="978.9" cy="162.2" r="2.40" fill="#fff6ee"/>
<circle cx="847.7" cy="200.3" r="2.40" fill="#fff6ee"/>
<circle cx="843.7" cy="201.1" r="2.16" fill="#fff6ee"/>
<circle cx="850" cy="199.5" r="2.40" fill="#fff6ee"/>
<circle cx="830.4" cy="224.6" r="2.88" fill="#fff6ee"/>
<circle cx="852.4" cy="245.7" r="2.16" fill="#fff6ee"/>
<circle cx="783.4" cy="255.2" r="2.16" fill="#fff6ee"/>
<circle cx="807.7" cy="243.4" r="1.56" fill="#fff6ee"/>
<circle cx="788.1" cy="208.1" r="1.20" fill="#fff6ee"/>
<circle cx="833.6" cy="179.1" r="1.44" fill="#fff6ee"/>
<circle cx="889.7" cy="178.4" r="3.12" fill="#fff6ee"/>
<circle cx="892.8" cy="177.6" r="3.12" fill="#fff6ee"/>
<circle cx="880.3" cy="203.4" r="2.64" fill="#fff6ee"/>
<circle cx="954.7" cy="201.1" r="2.40" fill="#fff6ee"/>
<circle cx="943" cy="232.4" r="2.40" fill="#fff6ee"/>
<circle cx="920.2" cy="237.1" r="2.40" fill="#fff6ee"/>
<circle cx="919.5" cy="235.6" r="2.16" fill="#fff6ee"/>
<circle cx="899.9" cy="231.6" r="1.80" fill="#fff6ee"/>
<circle cx="917.9" cy="244.2" r="1.56" fill="#fff6ee"/>
<circle cx="921.8" cy="252" r="1.80" fill="#fff6ee"/>
<circle cx="902.2" cy="257.5" r="1.80" fill="#fff6ee"/>
<circle cx="954.7" cy="225.4" r="1.80" fill="#fff6ee"/>
<circle cx="1013" cy="218" r="1.20" fill="#fff6ee"/>
<circle cx="1006.5" cy="226.7" r="1.44" fill="#fff6ee"/>
<circle cx="1018" cy="205" r="1.20" fill="#fff6ee"/>
<circle cx="1010" cy="238" r="1.20" fill="#fff6ee"/>
<circle cx="992.9" cy="137.1" r="3.6" fill="#fff4ea"/><circle cx="994.6" cy="135.4" r="2" fill="#3a0000"/>
<circle cx="810" cy="164" r="1.8" fill="#d8a858"/>
<circle cx="812" cy="168" r="2" fill="#d8a858"/>
<circle cx="809.5" cy="172" r="1.8" fill="#d8a858"/>
<circle cx="812.5" cy="173.5" r="1.5" fill="#d8a858"/>
</g>
<line x1="945.10" y1="78.60" x2="951.70" y2="130.10" stroke="#fff" stroke-width="2"/>
<line x1="982.00" y1="156.50" x2="982.00" y2="210.20" stroke="#fff" stroke-width="2"/>
<line x1="794.90" y1="180.60" x2="816.80" y2="230.00" stroke="#fff" stroke-width="2"/>
<text x="951.00" y="107.40" font-size="15.5" text-anchor="start" fill="#fff" stroke="#fff" stroke-width="0.3">1</text>
<text x="985.00" y="196.40" font-size="15.5" text-anchor="start" fill="#fff" stroke="#fff" stroke-width="0.3">2</text>
<text x="805.00" y="200.50" font-size="16" text-anchor="start" fill="#fff" stroke="#fff" stroke-width="0.3">3</text>
<rect x="951.70" y="255.00" width="64.20" height="4.00" fill="#fff" stroke="none" stroke-width="1.0"/>
<text x="967.00" y="250.20" font-size="16" text-anchor="start" fill="#fff" stroke="#fff" stroke-width="0.3">1<tspan dx="2"> </tspan>μm</text>
</g>
<rect x="1049.20" y="18.00" width="15.20" height="263.00" fill="url(#cbar)" stroke="#888" stroke-width="0.8"/>
<text x="1030.50" y="15.70" font-size="12" text-anchor="start" fill="#222" stroke="#222" stroke-width="0.3">18.7 nm</text>
<line x1="97.20" y1="316.90" x2="309.00" y2="316.90" stroke="#c63e4c" stroke-width="1.3" stroke-dasharray="5,3.5"/>
<line x1="212.80" y1="355.80" x2="340.40" y2="355.80" stroke="#c63e4c" stroke-width="1.3" stroke-dasharray="5,3.5"/>
<polyline points="49.40,354.30 54.90,354.30 60.40,349.30 66.70,354.30 72.90,352.00 78.40,352.70 84.70,354.30 90.20,351.60 95.70,355.10 101.60,356.70 106.70,322.90 112.90,314.60 124.90,318.80 133.00,318.00 141.80,316.40 150.00,316.00 158.60,317.60 169.40,314.40 176.70,316.90 193.50,318.80 210.40,319.70 222.40,318.80 234.40,316.90 246.50,318.80 256.10,316.90 263.30,314.00 273.00,314.90 282.60,316.40 292.20,315.60 297.00,321.70 303.00,356.60 313.90,355.40 328.30,354.20 342.30,356.60" fill="none" stroke="#3f6f8a" stroke-width="1.5" stroke-linejoin="round"/>
<rect x="49.40" y="305.40" width="292.90" height="57.00" fill="none" stroke="#303030" stroke-width="1.5"/>
<line x1="49.40" y1="357.10" x2="53.40" y2="357.10" stroke="#303030" stroke-width="1.2"/>
<line x1="49.40" y1="346.93" x2="51.90" y2="346.93" stroke="#303030" stroke-width="1.2"/>
<line x1="49.40" y1="336.75" x2="53.40" y2="336.75" stroke="#303030" stroke-width="1.2"/>
<line x1="49.40" y1="326.57" x2="51.90" y2="326.57" stroke="#303030" stroke-width="1.2"/>
<line x1="49.40" y1="316.40" x2="53.40" y2="316.40" stroke="#303030" stroke-width="1.2"/>
<text x="44.20" y="362.10" font-size="14.3" text-anchor="end" fill="#262626" stroke="#262626" stroke-width="0.3">0</text>
<text x="44.20" y="341.75" font-size="14.3" text-anchor="end" fill="#262626" stroke="#262626" stroke-width="0.3">2</text>
<text x="44.20" y="321.40" font-size="14.3" text-anchor="end" fill="#262626" stroke="#262626" stroke-width="0.3">4</text>
<line x1="49.40" y1="362.40" x2="49.40" y2="358.40" stroke="#303030" stroke-width="1.2"/>
<line x1="78.69" y1="362.40" x2="78.69" y2="359.90" stroke="#303030" stroke-width="1.2"/>
<line x1="107.98" y1="362.40" x2="107.98" y2="358.40" stroke="#303030" stroke-width="1.2"/>
<line x1="137.27" y1="362.40" x2="137.27" y2="359.90" stroke="#303030" stroke-width="1.2"/>
<line x1="166.56" y1="362.40" x2="166.56" y2="358.40" stroke="#303030" stroke-width="1.2"/>
<line x1="195.85" y1="362.40" x2="195.85" y2="359.90" stroke="#303030" stroke-width="1.2"/>
<line x1="225.14" y1="362.40" x2="225.14" y2="358.40" stroke="#303030" stroke-width="1.2"/>
<line x1="254.43" y1="362.40" x2="254.43" y2="359.90" stroke="#303030" stroke-width="1.2"/>
<line x1="283.72" y1="362.40" x2="283.72" y2="358.40" stroke="#303030" stroke-width="1.2"/>
<line x1="313.01" y1="362.40" x2="313.01" y2="359.90" stroke="#303030" stroke-width="1.2"/>
<line x1="342.30" y1="362.40" x2="342.30" y2="358.40" stroke="#303030" stroke-width="1.2"/>
<text x="49.40" y="378.00" font-size="14.3" text-anchor="middle" fill="#262626" stroke="#262626" stroke-width="0.3">0.0</text>
<text x="107.98" y="378.00" font-size="14.3" text-anchor="middle" fill="#262626" stroke="#262626" stroke-width="0.3">0.2</text>
<text x="166.56" y="378.00" font-size="14.3" text-anchor="middle" fill="#262626" stroke="#262626" stroke-width="0.3">0.4</text>
<text x="225.14" y="378.00" font-size="14.3" text-anchor="middle" fill="#262626" stroke="#262626" stroke-width="0.3">0.6</text>
<text x="283.72" y="378.00" font-size="14.3" text-anchor="middle" fill="#262626" stroke="#262626" stroke-width="0.3">0.8</text>
<text x="342.30" y="378.00" font-size="14.3" text-anchor="middle" fill="#262626" stroke="#262626" stroke-width="0.3">1.0</text>
<text x="60.00" y="320.30" font-size="13" text-anchor="start" fill="#d86878" stroke="#d86878" stroke-width="0">1</text>
<line x1="234.40" y1="320.90" x2="234.40" y2="351.80" stroke="#c63e4c" stroke-width="1.2"/>
<polygon points="231.8,322.4 237.0,322.4 234.4,316.9" fill="#c63e4c"/>
<polygon points="231.8,350.3 237.0,350.3 234.4,355.8" fill="#c63e4c"/>
<text x="239.70" y="340.40" font-size="12" text-anchor="start" fill="#c63e4c" stroke="#c63e4c" stroke-width="0.3">3.72 nm</text>
<line x1="87.40" y1="395.50" x2="297.80" y2="395.50" stroke="#c63e4c" stroke-width="1.3" stroke-dasharray="5,3.5"/>
<line x1="206.00" y1="436.50" x2="338.70" y2="436.50" stroke="#c63e4c" stroke-width="1.3" stroke-dasharray="5,3.5"/>
<polyline points="49.40,435.10 56.30,433.70 66.20,430.30 77.50,436.50 83.10,432.20 88.80,415.30 95.30,392.70 102.90,392.70 110.00,396.90 118.40,399.80 128.30,400.30 139.60,394.70 149.50,395.50 158.00,392.70 163.60,395.50 174.90,394.70 182.00,398.40 187.60,394.70 200.30,396.90 220.10,397.50 237.00,395.50 249.70,401.20 255.40,398.40 268.10,398.40 282.20,395.50 289.30,399.80 296.30,399.80 303.40,430.80 309.00,436.50 317.50,435.10 327.40,437.90 342.30,435.10" fill="none" stroke="#3f6f8a" stroke-width="1.5" stroke-linejoin="round"/>
<rect x="49.40" y="386.90" width="292.90" height="57.10" fill="none" stroke="#303030" stroke-width="1.5"/>
<line x1="49.40" y1="438.00" x2="53.40" y2="438.00" stroke="#303030" stroke-width="1.2"/>
<line x1="49.40" y1="427.75" x2="51.90" y2="427.75" stroke="#303030" stroke-width="1.2"/>
<line x1="49.40" y1="417.50" x2="53.40" y2="417.50" stroke="#303030" stroke-width="1.2"/>
<line x1="49.40" y1="407.25" x2="51.90" y2="407.25" stroke="#303030" stroke-width="1.2"/>
<line x1="49.40" y1="397.00" x2="53.40" y2="397.00" stroke="#303030" stroke-width="1.2"/>
<text x="44.20" y="443.00" font-size="14.3" text-anchor="end" fill="#262626" stroke="#262626" stroke-width="0.3">0</text>
<text x="44.20" y="422.50" font-size="14.3" text-anchor="end" fill="#262626" stroke="#262626" stroke-width="0.3">2</text>
<text x="44.20" y="402.00" font-size="14.3" text-anchor="end" fill="#262626" stroke="#262626" stroke-width="0.3">4</text>
<line x1="49.40" y1="444.00" x2="49.40" y2="440.00" stroke="#303030" stroke-width="1.2"/>
<line x1="78.69" y1="444.00" x2="78.69" y2="441.50" stroke="#303030" stroke-width="1.2"/>
<line x1="107.98" y1="444.00" x2="107.98" y2="440.00" stroke="#303030" stroke-width="1.2"/>
<line x1="137.27" y1="444.00" x2="137.27" y2="441.50" stroke="#303030" stroke-width="1.2"/>
<line x1="166.56" y1="444.00" x2="166.56" y2="440.00" stroke="#303030" stroke-width="1.2"/>
<line x1="195.85" y1="444.00" x2="195.85" y2="441.50" stroke="#303030" stroke-width="1.2"/>
<line x1="225.14" y1="444.00" x2="225.14" y2="440.00" stroke="#303030" stroke-width="1.2"/>
<line x1="254.43" y1="444.00" x2="254.43" y2="441.50" stroke="#303030" stroke-width="1.2"/>
<line x1="283.72" y1="444.00" x2="283.72" y2="440.00" stroke="#303030" stroke-width="1.2"/>
<line x1="313.01" y1="444.00" x2="313.01" y2="441.50" stroke="#303030" stroke-width="1.2"/>
<line x1="342.30" y1="444.00" x2="342.30" y2="440.00" stroke="#303030" stroke-width="1.2"/>
<text x="49.40" y="459.90" font-size="14.3" text-anchor="middle" fill="#262626" stroke="#262626" stroke-width="0.3">0.0</text>
<text x="107.98" y="459.90" font-size="14.3" text-anchor="middle" fill="#262626" stroke="#262626" stroke-width="0.3">0.2</text>
<text x="166.56" y="459.90" font-size="14.3" text-anchor="middle" fill="#262626" stroke="#262626" stroke-width="0.3">0.4</text>
<text x="225.14" y="459.90" font-size="14.3" text-anchor="middle" fill="#262626" stroke="#262626" stroke-width="0.3">0.6</text>
<text x="283.72" y="459.90" font-size="14.3" text-anchor="middle" fill="#262626" stroke="#262626" stroke-width="0.3">0.8</text>
<text x="342.30" y="459.90" font-size="14.3" text-anchor="middle" fill="#262626" stroke="#262626" stroke-width="0.3">1.0</text>
<text x="60.00" y="399.80" font-size="13" text-anchor="start" fill="#d86878" stroke="#d86878" stroke-width="0">2</text>
<line x1="220.70" y1="399.50" x2="220.70" y2="432.50" stroke="#c63e4c" stroke-width="1.2"/>
<polygon points="218.1,401.0 223.3,401.0 220.7,395.5" fill="#c63e4c"/>
<polygon points="218.1,431.0 223.3,431.0 220.7,436.5" fill="#c63e4c"/>
<text x="225.70" y="421.80" font-size="12" text-anchor="start" fill="#c63e4c" stroke="#c63e4c" stroke-width="0.3">3.95 nm</text>
<line x1="84.50" y1="479.20" x2="296.30" y2="479.20" stroke="#c63e4c" stroke-width="1.3" stroke-dasharray="5,3.5"/>
<line x1="206.00" y1="518.70" x2="340.10" y2="518.70" stroke="#c63e4c" stroke-width="1.3" stroke-dasharray="5,3.5"/>
<polyline points="49.40,512.20 56.30,512.80 61.90,518.70 69.00,513.10 74.70,515.60 81.70,515.10 93.00,517.30 99.20,478.40 105.70,477.50 114.20,475.50 121.20,476.90 129.70,483.20 138.20,491.90 143.80,491.90 150.90,487.70 167.80,489.10 174.90,484.90 182.00,487.70 194.70,486.80 201.70,480.60 211.60,479.20 231.40,479.20 239.90,479.80 245.50,476.40 256.80,479.20 265.30,474.10 275.20,471.90 282.20,477.50 287.90,499.50 294.90,518.70 302.00,517.90 310.50,520.70 320.30,518.50 327.40,520.70 333.10,514.50 342.30,519.90" fill="none" stroke="#3f6f8a" stroke-width="1.5" stroke-linejoin="round"/>
<rect x="49.40" y="468.40" width="292.90" height="56.10" fill="none" stroke="#303030" stroke-width="1.5"/>
<line x1="49.40" y1="519.00" x2="53.40" y2="519.00" stroke="#303030" stroke-width="1.2"/>
<line x1="49.40" y1="508.75" x2="51.90" y2="508.75" stroke="#303030" stroke-width="1.2"/>
<line x1="49.40" y1="498.50" x2="53.40" y2="498.50" stroke="#303030" stroke-width="1.2"/>
<line x1="49.40" y1="488.25" x2="51.90" y2="488.25" stroke="#303030" stroke-width="1.2"/>
<line x1="49.40" y1="478.00" x2="53.40" y2="478.00" stroke="#303030" stroke-width="1.2"/>
<text x="44.20" y="524.00" font-size="14.3" text-anchor="end" fill="#262626" stroke="#262626" stroke-width="0.3">0</text>
<text x="44.20" y="503.50" font-size="14.3" text-anchor="end" fill="#262626" stroke="#262626" stroke-width="0.3">2</text>
<text x="44.20" y="483.00" font-size="14.3" text-anchor="end" fill="#262626" stroke="#262626" stroke-width="0.3">4</text>
<line x1="49.40" y1="524.50" x2="49.40" y2="520.50" stroke="#303030" stroke-width="1.2"/>
<line x1="78.69" y1="524.50" x2="78.69" y2="522.00" stroke="#303030" stroke-width="1.2"/>
<line x1="107.98" y1="524.50" x2="107.98" y2="520.50" stroke="#303030" stroke-width="1.2"/>
<line x1="137.27" y1="524.50" x2="137.27" y2="522.00" stroke="#303030" stroke-width="1.2"/>
<line x1="166.56" y1="524.50" x2="166.56" y2="520.50" stroke="#303030" stroke-width="1.2"/>
<line x1="195.85" y1="524.50" x2="195.85" y2="522.00" stroke="#303030" stroke-width="1.2"/>
<line x1="225.14" y1="524.50" x2="225.14" y2="520.50" stroke="#303030" stroke-width="1.2"/>
<line x1="254.43" y1="524.50" x2="254.43" y2="522.00" stroke="#303030" stroke-width="1.2"/>
<line x1="283.72" y1="524.50" x2="283.72" y2="520.50" stroke="#303030" stroke-width="1.2"/>
<line x1="313.01" y1="524.50" x2="313.01" y2="522.00" stroke="#303030" stroke-width="1.2"/>
<line x1="342.30" y1="524.50" x2="342.30" y2="520.50" stroke="#303030" stroke-width="1.2"/>
<text x="49.40" y="541.00" font-size="14.3" text-anchor="middle" fill="#262626" stroke="#262626" stroke-width="0.3">0.0</text>
<text x="107.98" y="541.00" font-size="14.3" text-anchor="middle" fill="#262626" stroke="#262626" stroke-width="0.3">0.2</text>
<text x="166.56" y="541.00" font-size="14.3" text-anchor="middle" fill="#262626" stroke="#262626" stroke-width="0.3">0.4</text>
<text x="225.14" y="541.00" font-size="14.3" text-anchor="middle" fill="#262626" stroke="#262626" stroke-width="0.3">0.6</text>
<text x="283.72" y="541.00" font-size="14.3" text-anchor="middle" fill="#262626" stroke="#262626" stroke-width="0.3">0.8</text>
<text x="342.30" y="541.00" font-size="14.3" text-anchor="middle" fill="#262626" stroke="#262626" stroke-width="0.3">1.0</text>
<text x="60.00" y="482.60" font-size="13" text-anchor="start" fill="#d86878" stroke="#d86878" stroke-width="0">3</text>
<line x1="212.20" y1="483.20" x2="212.20" y2="514.70" stroke="#c63e4c" stroke-width="1.2"/>
<polygon points="209.6,484.7 214.8,484.7 212.2,479.2" fill="#c63e4c"/>
<polygon points="209.6,513.2 214.8,513.2 212.2,518.7" fill="#c63e4c"/>
<text x="214.40" y="502.40" font-size="12" text-anchor="start" fill="#c63e4c" stroke="#c63e4c" stroke-width="0.3">3.77 nm</text>
<text x="22.60" y="425.00" font-size="14.5" text-anchor="middle" fill="#262626" stroke="#262626" stroke-width="0.3" transform="rotate(-90 22.60 425.00)">Height (nm)</text>
<text x="150.20" y="565.00" font-size="14.5" text-anchor="start" fill="#262626" stroke="#262626" stroke-width="0.3">Distance (μm)</text>
<defs><radialGradient id="m2" cx="0.35" cy="0.3" r="0.75"><stop offset="0" stop-color="#d8ccd8"/><stop offset="0.35" stop-color="#7c6a82"/><stop offset="1" stop-color="#36283a"/></radialGradient><radialGradient id="m4" cx="0.35" cy="0.3" r="0.75"><stop offset="0" stop-color="#e8b8c4"/><stop offset="0.35" stop-color="#ac3e5a"/><stop offset="1" stop-color="#501024"/></radialGradient><radialGradient id="m8" cx="0.35" cy="0.3" r="0.75"><stop offset="0" stop-color="#ffd0c8"/><stop offset="0.35" stop-color="#e02830"/><stop offset="1" stop-color="#801010"/></radialGradient></defs>
<rect x="415.60" y="306.50" width="292.50" height="217.80" fill="none" stroke="#303030" stroke-width="1.5"/>
<line x1="415.60" y1="515.30" x2="419.60" y2="515.30" stroke="#303030" stroke-width="1.2"/>
<line x1="415.60" y1="489.20" x2="418.10" y2="489.20" stroke="#303030" stroke-width="1.2"/>
<line x1="415.60" y1="463.10" x2="419.60" y2="463.10" stroke="#303030" stroke-width="1.2"/>
<line x1="415.60" y1="437.00" x2="418.10" y2="437.00" stroke="#303030" stroke-width="1.2"/>
<line x1="415.60" y1="410.90" x2="419.60" y2="410.90" stroke="#303030" stroke-width="1.2"/>
<line x1="415.60" y1="384.80" x2="418.10" y2="384.80" stroke="#303030" stroke-width="1.2"/>
<line x1="415.60" y1="358.70" x2="419.60" y2="358.70" stroke="#303030" stroke-width="1.2"/>
<line x1="415.60" y1="332.60" x2="418.10" y2="332.60" stroke="#303030" stroke-width="1.2"/>
<line x1="415.60" y1="306.50" x2="419.60" y2="306.50" stroke="#303030" stroke-width="1.2"/>
<text x="410.40" y="519.90" font-size="14.3" text-anchor="end" fill="#262626" stroke="#262626" stroke-width="0.3">0</text>
<text x="410.40" y="467.70" font-size="14.3" text-anchor="end" fill="#262626" stroke="#262626" stroke-width="0.3">30</text>
<text x="410.40" y="415.50" font-size="14.3" text-anchor="end" fill="#262626" stroke="#262626" stroke-width="0.3">60</text>
<text x="410.40" y="363.30" font-size="14.3" text-anchor="end" fill="#262626" stroke="#262626" stroke-width="0.3">90</text>
<text x="410.40" y="311.10" font-size="13.2" text-anchor="end" fill="#262626" stroke="#262626" stroke-width="0.3">120</text>
<line x1="428.50" y1="524.30" x2="428.50" y2="520.30" stroke="#303030" stroke-width="1.2"/>
<line x1="455.10" y1="524.30" x2="455.10" y2="521.80" stroke="#303030" stroke-width="1.2"/>
<line x1="481.70" y1="524.30" x2="481.70" y2="520.30" stroke="#303030" stroke-width="1.2"/>
<line x1="508.30" y1="524.30" x2="508.30" y2="521.80" stroke="#303030" stroke-width="1.2"/>
<line x1="534.90" y1="524.30" x2="534.90" y2="520.30" stroke="#303030" stroke-width="1.2"/>
<line x1="561.50" y1="524.30" x2="561.50" y2="521.80" stroke="#303030" stroke-width="1.2"/>
<line x1="588.10" y1="524.30" x2="588.10" y2="520.30" stroke="#303030" stroke-width="1.2"/>
<line x1="614.70" y1="524.30" x2="614.70" y2="521.80" stroke="#303030" stroke-width="1.2"/>
<line x1="641.30" y1="524.30" x2="641.30" y2="520.30" stroke="#303030" stroke-width="1.2"/>
<line x1="667.90" y1="524.30" x2="667.90" y2="521.80" stroke="#303030" stroke-width="1.2"/>
<line x1="694.50" y1="524.30" x2="694.50" y2="520.30" stroke="#303030" stroke-width="1.2"/>
<text x="428.50" y="539.80" font-size="14.3" text-anchor="middle" fill="#262626" stroke="#262626" stroke-width="0.3">0.0</text>
<text x="481.70" y="539.80" font-size="14.3" text-anchor="middle" fill="#262626" stroke="#262626" stroke-width="0.3">0.2</text>
<text x="534.90" y="539.80" font-size="14.3" text-anchor="middle" fill="#262626" stroke="#262626" stroke-width="0.3">0.4</text>
<text x="588.10" y="539.80" font-size="14.3" text-anchor="middle" fill="#262626" stroke="#262626" stroke-width="0.3">0.6</text>
<text x="641.30" y="539.80" font-size="14.3" text-anchor="middle" fill="#262626" stroke="#262626" stroke-width="0.3">0.8</text>
<text x="694.50" y="539.80" font-size="14.3" text-anchor="middle" fill="#262626" stroke="#262626" stroke-width="0.3">1.0</text>
<text x="482.70" y="564.80" font-size="14.8" text-anchor="start" fill="#262626" stroke="#262626" stroke-width="0.3">Relative pressure <tspan font-size="14.2">(<tspan font-style="italic">P</tspan>/<tspan font-style="italic">P</tspan></tspan><tspan font-size="9" dy="3">0</tspan><tspan font-size="14.2" dy="-3">)</tspan></text>
<text x="382.30" y="425.20" font-size="15" text-anchor="middle" fill="#262626" stroke="#262626" stroke-width="0.3" transform="rotate(-90 382.30 425.20)">Volume (cm<tspan font-size="9.5" dy="-6">3</tspan><tspan dy="6"> g</tspan><tspan font-size="9.5" dy="-6">-1</tspan><tspan dy="6"> STP)</tspan></text>
<polyline points="428.40,508.00 428.20,500.00 428.50,492.00 429.50,485.00 431.00,476.00 433.00,468.50 436.10,462.30 440.30,458.10 445.20,456.00 450.70,453.90 460.20,451.30 471.50,448.10 482.70,445.80 495.60,442.60 508.50,440.60 521.50,436.10 534.40,433.50 548.90,428.70 561.80,427.70 574.40,425.50 588.90,422.90 601.80,419.00 614.70,415.80 629.20,411.00 640.50,406.10 651.80,399.70 663.10,391.60 674.40,383.50 682.40,373.90 688.90,364.20 693.10,349.00" fill="none" stroke="#6e5a70" stroke-width="1.0" stroke-linejoin="round"/>
<polyline points="693.10,349.00 687.30,361.00 679.20,373.90 671.10,381.90 663.10,388.40 651.80,394.80 640.50,398.70 629.20,402.90 614.70,406.80 601.80,409.40 588.90,412.60 574.40,414.80 561.80,419.00 548.90,428.20 534.40,432.50 521.50,435.30 508.50,439.60 495.60,441.80 482.70,444.80 471.50,447.30 460.20,450.50 447.30,453.80 440.80,456.00 436.00,459.50" fill="none" stroke="#6e5a70" stroke-width="1.0" stroke-linejoin="round"/>
<circle cx="428.4" cy="508.0" r="2.8" fill="url(#m2)"/>
<circle cx="428.2" cy="500.0" r="2.8" fill="url(#m2)"/>
<circle cx="428.5" cy="492.0" r="2.8" fill="url(#m2)"/>
<circle cx="429.5" cy="485.0" r="2.8" fill="url(#m2)"/>
<circle cx="431.0" cy="476.0" r="2.8" fill="url(#m2)"/>
<circle cx="433.0" cy="468.5" r="2.8" fill="url(#m2)"/>
<circle cx="436.1" cy="462.3" r="2.8" fill="url(#m2)"/>
<circle cx="440.3" cy="458.1" r="2.8" fill="url(#m2)"/>
<circle cx="445.2" cy="456.0" r="2.8" fill="url(#m2)"/>
<circle cx="450.7" cy="453.9" r="2.8" fill="url(#m2)"/>
<circle cx="460.2" cy="451.3" r="2.8" fill="url(#m2)"/>
<circle cx="471.5" cy="448.1" r="2.8" fill="url(#m2)"/>
<circle cx="482.7" cy="445.8" r="2.8" fill="url(#m2)"/>
<circle cx="495.6" cy="442.6" r="2.8" fill="url(#m2)"/>
<circle cx="508.5" cy="440.6" r="2.8" fill="url(#m2)"/>
<circle cx="521.5" cy="436.1" r="2.8" fill="url(#m2)"/>
<circle cx="534.4" cy="433.5" r="2.8" fill="url(#m2)"/>
<circle cx="548.9" cy="428.7" r="2.8" fill="url(#m2)"/>
<circle cx="561.8" cy="427.7" r="2.8" fill="url(#m2)"/>
<circle cx="574.4" cy="425.5" r="2.8" fill="url(#m2)"/>
<circle cx="588.9" cy="422.9" r="2.8" fill="url(#m2)"/>
<circle cx="601.8" cy="419.0" r="2.8" fill="url(#m2)"/>
<circle cx="614.7" cy="415.8" r="2.8" fill="url(#m2)"/>
<circle cx="629.2" cy="411.0" r="2.8" fill="url(#m2)"/>
<circle cx="640.5" cy="406.1" r="2.8" fill="url(#m2)"/>
<circle cx="651.8" cy="399.7" r="2.8" fill="url(#m2)"/>
<circle cx="663.1" cy="391.6" r="2.8" fill="url(#m2)"/>
<circle cx="674.4" cy="383.5" r="2.8" fill="url(#m2)"/>
<circle cx="682.4" cy="373.9" r="2.8" fill="url(#m2)"/>
<circle cx="688.9" cy="364.2" r="2.8" fill="url(#m2)"/>
<circle cx="693.1" cy="349.0" r="2.8" fill="url(#m2)"/>
<circle cx="687.3" cy="361.0" r="2.8" fill="url(#m2)"/>
<circle cx="679.2" cy="373.9" r="2.8" fill="url(#m2)"/>
<circle cx="671.1" cy="381.9" r="2.8" fill="url(#m2)"/>
<circle cx="663.1" cy="388.4" r="2.8" fill="url(#m2)"/>
<circle cx="651.8" cy="394.8" r="2.8" fill="url(#m2)"/>
<circle cx="640.5" cy="398.7" r="2.8" fill="url(#m2)"/>
<circle cx="629.2" cy="402.9" r="2.8" fill="url(#m2)"/>
<circle cx="614.7" cy="406.8" r="2.8" fill="url(#m2)"/>
<circle cx="601.8" cy="409.4" r="2.8" fill="url(#m2)"/>
<circle cx="588.9" cy="412.6" r="2.8" fill="url(#m2)"/>
<circle cx="574.4" cy="414.8" r="2.8" fill="url(#m2)"/>
<circle cx="561.8" cy="419.0" r="2.8" fill="url(#m2)"/>
<circle cx="548.9" cy="428.2" r="2.8" fill="url(#m2)"/>
<circle cx="534.4" cy="432.5" r="2.8" fill="url(#m2)"/>
<circle cx="521.5" cy="435.3" r="2.8" fill="url(#m2)"/>
<circle cx="508.5" cy="439.6" r="2.8" fill="url(#m2)"/>
<circle cx="495.6" cy="441.8" r="2.8" fill="url(#m2)"/>
<circle cx="482.7" cy="444.8" r="2.8" fill="url(#m2)"/>
<circle cx="471.5" cy="447.3" r="2.8" fill="url(#m2)"/>
<circle cx="460.2" cy="450.5" r="2.8" fill="url(#m2)"/>
<circle cx="447.3" cy="453.8" r="2.8" fill="url(#m2)"/>
<circle cx="440.8" cy="456.0" r="2.8" fill="url(#m2)"/>
<circle cx="436.0" cy="459.5" r="2.8" fill="url(#m2)"/>
<polyline points="428.40,508.00 428.20,500.00 428.60,492.00 430.50,486.00 431.20,480.40 431.90,475.50 434.70,472.00 438.90,469.20 443.80,467.90 450.70,465.80 463.40,462.60 482.70,461.00 495.60,459.50 508.50,457.70 521.50,455.00 534.40,452.90 548.90,451.00 561.80,449.70 574.40,447.10 588.90,444.80 601.80,442.60 614.70,438.40 629.20,435.20 645.30,428.70 658.20,423.20 669.50,417.40 680.80,407.70 687.30,396.50 693.10,380.30" fill="none" stroke="#a84a62" stroke-width="1.0" stroke-linejoin="round"/>
<polyline points="693.10,380.30 682.40,395.50 671.10,408.40 658.20,417.40 643.70,422.30 629.20,427.70 614.70,431.90 601.80,435.20 588.90,437.40 574.40,440.00 561.80,443.20 548.90,447.50 534.40,450.50 521.50,453.00 508.50,456.00 495.60,458.00 482.70,459.80 463.40,461.60" fill="none" stroke="#a84a62" stroke-width="1.0" stroke-linejoin="round"/>
<circle cx="428.4" cy="508.0" r="2.8" fill="url(#m4)"/>
<circle cx="428.2" cy="500.0" r="2.8" fill="url(#m4)"/>
<circle cx="428.6" cy="492.0" r="2.8" fill="url(#m4)"/>
<circle cx="430.5" cy="486.0" r="2.8" fill="url(#m4)"/>
<circle cx="431.2" cy="480.4" r="2.8" fill="url(#m4)"/>
<circle cx="431.9" cy="475.5" r="2.8" fill="url(#m4)"/>
<circle cx="434.7" cy="472.0" r="2.8" fill="url(#m4)"/>
<circle cx="438.9" cy="469.2" r="2.8" fill="url(#m4)"/>
<circle cx="443.8" cy="467.9" r="2.8" fill="url(#m4)"/>
<circle cx="450.7" cy="465.8" r="2.8" fill="url(#m4)"/>
<circle cx="463.4" cy="462.6" r="2.8" fill="url(#m4)"/>
<circle cx="482.7" cy="461.0" r="2.8" fill="url(#m4)"/>
<circle cx="495.6" cy="459.5" r="2.8" fill="url(#m4)"/>
<circle cx="508.5" cy="457.7" r="2.8" fill="url(#m4)"/>
<circle cx="521.5" cy="455.0" r="2.8" fill="url(#m4)"/>
<circle cx="534.4" cy="452.9" r="2.8" fill="url(#m4)"/>
<circle cx="548.9" cy="451.0" r="2.8" fill="url(#m4)"/>
<circle cx="561.8" cy="449.7" r="2.8" fill="url(#m4)"/>
<circle cx="574.4" cy="447.1" r="2.8" fill="url(#m4)"/>
<circle cx="588.9" cy="444.8" r="2.8" fill="url(#m4)"/>
<circle cx="601.8" cy="442.6" r="2.8" fill="url(#m4)"/>
<circle cx="614.7" cy="438.4" r="2.8" fill="url(#m4)"/>
<circle cx="629.2" cy="435.2" r="2.8" fill="url(#m4)"/>
<circle cx="645.3" cy="428.7" r="2.8" fill="url(#m4)"/>
<circle cx="658.2" cy="423.2" r="2.8" fill="url(#m4)"/>
<circle cx="669.5" cy="417.4" r="2.8" fill="url(#m4)"/>
<circle cx="680.8" cy="407.7" r="2.8" fill="url(#m4)"/>
<circle cx="687.3" cy="396.5" r="2.8" fill="url(#m4)"/>
<circle cx="693.1" cy="380.3" r="2.8" fill="url(#m4)"/>
<circle cx="682.4" cy="395.5" r="2.8" fill="url(#m4)"/>
<circle cx="671.1" cy="408.4" r="2.8" fill="url(#m4)"/>
<circle cx="658.2" cy="417.4" r="2.8" fill="url(#m4)"/>
<circle cx="643.7" cy="422.3" r="2.8" fill="url(#m4)"/>
<circle cx="629.2" cy="427.7" r="2.8" fill="url(#m4)"/>
<circle cx="614.7" cy="431.9" r="2.8" fill="url(#m4)"/>
<circle cx="601.8" cy="435.2" r="2.8" fill="url(#m4)"/>
<circle cx="588.9" cy="437.4" r="2.8" fill="url(#m4)"/>
<circle cx="574.4" cy="440.0" r="2.8" fill="url(#m4)"/>
<circle cx="561.8" cy="443.2" r="2.8" fill="url(#m4)"/>
<circle cx="548.9" cy="447.5" r="2.8" fill="url(#m4)"/>
<circle cx="534.4" cy="450.5" r="2.8" fill="url(#m4)"/>
<circle cx="521.5" cy="453.0" r="2.8" fill="url(#m4)"/>
<circle cx="508.5" cy="456.0" r="2.8" fill="url(#m4)"/>
<circle cx="495.6" cy="458.0" r="2.8" fill="url(#m4)"/>
<circle cx="482.7" cy="459.8" r="2.8" fill="url(#m4)"/>
<circle cx="463.4" cy="461.6" r="2.8" fill="url(#m4)"/>
<polyline points="428.40,508.20 428.00,502.70 428.00,497.10 428.40,491.50 429.80,486.70 431.90,484.60 436.10,483.90 442.40,483.20 454.90,481.80 466.70,481.10 482.70,478.70 495.60,477.50 508.50,475.50 521.50,474.00 534.40,472.30 548.90,471.50 561.80,470.60 574.40,468.40 588.90,465.80 603.40,462.60 614.70,461.00 629.20,457.70 642.10,454.50 656.60,449.70 669.50,441.60 682.40,431.90 693.10,419.00" fill="none" stroke="#e0343a" stroke-width="1.0" stroke-linejoin="round"/>
<polyline points="693.10,419.00 684.00,427.70 671.10,436.80 658.20,443.90 645.30,448.10 632.40,451.30 619.50,454.50 606.60,457.10 593.70,459.40 579.20,461.90 561.80,465.80 548.90,469.00 534.40,470.50 521.50,472.50 508.50,474.00 495.60,476.00 482.70,477.50 469.80,479.00 456.90,480.20" fill="none" stroke="#e0343a" stroke-width="1.0" stroke-linejoin="round"/>
<circle cx="428.4" cy="508.2" r="2.8" fill="url(#m8)"/>
<circle cx="428.0" cy="502.7" r="2.8" fill="url(#m8)"/>
<circle cx="428.0" cy="497.1" r="2.8" fill="url(#m8)"/>
<circle cx="428.4" cy="491.5" r="2.8" fill="url(#m8)"/>
<circle cx="429.8" cy="486.7" r="2.8" fill="url(#m8)"/>
<circle cx="431.9" cy="484.6" r="2.8" fill="url(#m8)"/>
<circle cx="436.1" cy="483.9" r="2.8" fill="url(#m8)"/>
<circle cx="442.4" cy="483.2" r="2.8" fill="url(#m8)"/>
<circle cx="454.9" cy="481.8" r="2.8" fill="url(#m8)"/>
<circle cx="466.7" cy="481.1" r="2.8" fill="url(#m8)"/>
<circle cx="482.7" cy="478.7" r="2.8" fill="url(#m8)"/>
<circle cx="495.6" cy="477.5" r="2.8" fill="url(#m8)"/>
<circle cx="508.5" cy="475.5" r="2.8" fill="url(#m8)"/>
<circle cx="521.5" cy="474.0" r="2.8" fill="url(#m8)"/>
<circle cx="534.4" cy="472.3" r="2.8" fill="url(#m8)"/>
<circle cx="548.9" cy="471.5" r="2.8" fill="url(#m8)"/>
<circle cx="561.8" cy="470.6" r="2.8" fill="url(#m8)"/>
<circle cx="574.4" cy="468.4" r="2.8" fill="url(#m8)"/>
<circle cx="588.9" cy="465.8" r="2.8" fill="url(#m8)"/>
<circle cx="603.4" cy="462.6" r="2.8" fill="url(#m8)"/>
<circle cx="614.7" cy="461.0" r="2.8" fill="url(#m8)"/>
<circle cx="629.2" cy="457.7" r="2.8" fill="url(#m8)"/>
<circle cx="642.1" cy="454.5" r="2.8" fill="url(#m8)"/>
<circle cx="656.6" cy="449.7" r="2.8" fill="url(#m8)"/>
<circle cx="669.5" cy="441.6" r="2.8" fill="url(#m8)"/>
<circle cx="682.4" cy="431.9" r="2.8" fill="url(#m8)"/>
<circle cx="693.1" cy="419.0" r="2.8" fill="url(#m8)"/>
<circle cx="684.0" cy="427.7" r="2.8" fill="url(#m8)"/>
<circle cx="671.1" cy="436.8" r="2.8" fill="url(#m8)"/>
<circle cx="658.2" cy="443.9" r="2.8" fill="url(#m8)"/>
<circle cx="645.3" cy="448.1" r="2.8" fill="url(#m8)"/>
<circle cx="632.4" cy="451.3" r="2.8" fill="url(#m8)"/>
<circle cx="619.5" cy="454.5" r="2.8" fill="url(#m8)"/>
<circle cx="606.6" cy="457.1" r="2.8" fill="url(#m8)"/>
<circle cx="593.7" cy="459.4" r="2.8" fill="url(#m8)"/>
<circle cx="579.2" cy="461.9" r="2.8" fill="url(#m8)"/>
<circle cx="561.8" cy="465.8" r="2.8" fill="url(#m8)"/>
<circle cx="548.9" cy="469.0" r="2.8" fill="url(#m8)"/>
<circle cx="534.4" cy="470.5" r="2.8" fill="url(#m8)"/>
<circle cx="521.5" cy="472.5" r="2.8" fill="url(#m8)"/>
<circle cx="508.5" cy="474.0" r="2.8" fill="url(#m8)"/>
<circle cx="495.6" cy="476.0" r="2.8" fill="url(#m8)"/>
<circle cx="482.7" cy="477.5" r="2.8" fill="url(#m8)"/>
<circle cx="469.8" cy="479.0" r="2.8" fill="url(#m8)"/>
<circle cx="456.9" cy="480.2" r="2.8" fill="url(#m8)"/>
<line x1="422.20" y1="318.90" x2="449.40" y2="318.90" stroke="#6e5a70" stroke-width="1.2"/>
<circle cx="435.6" cy="318.9" r="2.9" fill="url(#m2)"/>
<text x="453.30" y="322.90" font-size="12" text-anchor="start" fill="#262626" stroke="#262626" stroke-width="0.3">Ni-DMAP-2</text>
<line x1="422.20" y1="333.30" x2="449.40" y2="333.30" stroke="#a84a62" stroke-width="1.2"/>
<circle cx="435.6" cy="333.3" r="2.9" fill="url(#m4)"/>
<text x="453.30" y="337.30" font-size="12" text-anchor="start" fill="#262626" stroke="#262626" stroke-width="0.3">Ni-DMAP-4</text>
<line x1="422.20" y1="348.30" x2="449.40" y2="348.30" stroke="#e0343a" stroke-width="1.2"/>
<circle cx="435.6" cy="348.3" r="2.9" fill="url(#m8)"/>
<text x="453.30" y="352.30" font-size="12" text-anchor="start" fill="#262626" stroke="#262626" stroke-width="0.3">Ni-DMAP-8</text>
<rect x="777.50" y="308.50" width="293.70" height="214.90" fill="none" stroke="#303030" stroke-width="1.5"/>
<line x1="777.50" y1="499.90" x2="781.50" y2="499.90" stroke="#303030" stroke-width="1.2"/>
<line x1="777.50" y1="461.42" x2="780.00" y2="461.42" stroke="#303030" stroke-width="1.2"/>
<line x1="777.50" y1="422.95" x2="781.50" y2="422.95" stroke="#303030" stroke-width="1.2"/>
<line x1="777.50" y1="384.47" x2="780.00" y2="384.47" stroke="#303030" stroke-width="1.2"/>
<line x1="777.50" y1="346.00" x2="781.50" y2="346.00" stroke="#303030" stroke-width="1.2"/>
<text x="772.60" y="504.90" font-size="14.3" text-anchor="end" fill="#262626" stroke="#262626" stroke-width="0.3">0.00</text>
<text x="772.60" y="427.95" font-size="14.3" text-anchor="end" fill="#262626" stroke="#262626" stroke-width="0.3">0.01</text>
<text x="772.60" y="351.00" font-size="14.3" text-anchor="end" fill="#262626" stroke="#262626" stroke-width="0.3">0.02</text>
<line x1="787.20" y1="523.40" x2="787.20" y2="519.40" stroke="#303030" stroke-width="1.2"/>
<line x1="834.47" y1="523.40" x2="834.47" y2="520.90" stroke="#303030" stroke-width="1.2"/>
<line x1="881.73" y1="523.40" x2="881.73" y2="519.40" stroke="#303030" stroke-width="1.2"/>
<line x1="929.00" y1="523.40" x2="929.00" y2="520.90" stroke="#303030" stroke-width="1.2"/>
<line x1="976.26" y1="523.40" x2="976.26" y2="519.40" stroke="#303030" stroke-width="1.2"/>
<line x1="1023.53" y1="523.40" x2="1023.53" y2="520.90" stroke="#303030" stroke-width="1.2"/>
<line x1="1070.79" y1="523.40" x2="1070.79" y2="519.40" stroke="#303030" stroke-width="1.2"/>
<text x="787.20" y="538.90" font-size="14.3" text-anchor="middle" fill="#262626" stroke="#262626" stroke-width="0.3">0</text>
<text x="881.73" y="538.90" font-size="14.3" text-anchor="middle" fill="#262626" stroke="#262626" stroke-width="0.3">10</text>
<text x="976.26" y="538.90" font-size="14.3" text-anchor="middle" fill="#262626" stroke="#262626" stroke-width="0.3">20</text>
<text x="1070.79" y="538.90" font-size="14.3" text-anchor="middle" fill="#262626" stroke="#262626" stroke-width="0.3">30</text>
<text x="873.30" y="562.50" font-size="15.5" text-anchor="start" fill="#262626" stroke="#262626" stroke-width="0.3">Pore size (nm)</text>
<text x="739.20" y="424.20" font-size="14.5" text-anchor="middle" fill="#262626" stroke="#262626" stroke-width="0.3" transform="rotate(-90 739.20 424.20)">d<tspan font-style="italic">V</tspan>/d<tspan font-style="italic">D</tspan> (cm<tspan font-size="9.5" dy="-6">3</tspan><tspan dy="6"> g</tspan><tspan font-size="9.5" dy="-6">-1</tspan><tspan dy="6"> nm)</tspan></text>
<text x="784.40" y="356.30" font-size="12.5" text-anchor="start" fill="#262626" stroke="#262626" stroke-width="0.3">1.1 nm</text>
<polyline points="787.40,437.80 789.40,467.40 791.80,428.90 794.80,371.10 797.10,363.10 800.70,390.40 809.60,437.20 814.90,469.80 820.90,460.90 824.40,467.40 828.00,463.00 831.80,470.40 836.30,473.30 840.70,470.40 845.10,473.30 854.60,473.90 862.90,475.70 871.20,476.30 883.10,474.80 896.00,473.10 910.20,476.20 924.30,475.70 938.80,477.00 952.50,476.50 967.90,475.70 986.80,477.40 1001.30,474.80 1020.20,476.20 1039.40,477.40 1068.10,476.50" fill="none" stroke="#6e5a70" stroke-width="1.0" stroke-linejoin="round"/>
<circle cx="787.4" cy="437.8" r="2.9" fill="url(#m2)"/>
<circle cx="789.4" cy="467.4" r="2.9" fill="url(#m2)"/>
<circle cx="791.8" cy="428.9" r="2.9" fill="url(#m2)"/>
<circle cx="794.8" cy="371.1" r="2.9" fill="url(#m2)"/>
<circle cx="797.1" cy="363.1" r="2.9" fill="url(#m2)"/>
<circle cx="800.7" cy="390.4" r="2.9" fill="url(#m2)"/>
<circle cx="809.6" cy="437.2" r="2.9" fill="url(#m2)"/>
<circle cx="814.9" cy="469.8" r="2.9" fill="url(#m2)"/>
<circle cx="820.9" cy="460.9" r="2.9" fill="url(#m2)"/>
<circle cx="824.4" cy="467.4" r="2.9" fill="url(#m2)"/>
<circle cx="828.0" cy="463.0" r="2.9" fill="url(#m2)"/>
<circle cx="831.8" cy="470.4" r="2.9" fill="url(#m2)"/>
<circle cx="836.3" cy="473.3" r="2.9" fill="url(#m2)"/>
<circle cx="840.7" cy="470.4" r="2.9" fill="url(#m2)"/>
<circle cx="845.1" cy="473.3" r="2.9" fill="url(#m2)"/>
<circle cx="854.6" cy="473.9" r="2.9" fill="url(#m2)"/>
<circle cx="862.9" cy="475.7" r="2.9" fill="url(#m2)"/>
<circle cx="871.2" cy="476.3" r="2.9" fill="url(#m2)"/>
<circle cx="883.1" cy="474.8" r="2.9" fill="url(#m2)"/>
<circle cx="896.0" cy="473.1" r="2.9" fill="url(#m2)"/>
<circle cx="910.2" cy="476.2" r="2.9" fill="url(#m2)"/>
<circle cx="924.3" cy="475.7" r="2.9" fill="url(#m2)"/>
<circle cx="938.8" cy="477.0" r="2.9" fill="url(#m2)"/>
<circle cx="952.5" cy="476.5" r="2.9" fill="url(#m2)"/>
<circle cx="967.9" cy="475.7" r="2.9" fill="url(#m2)"/>
<circle cx="986.8" cy="477.4" r="2.9" fill="url(#m2)"/>
<circle cx="1001.3" cy="474.8" r="2.9" fill="url(#m2)"/>
<circle cx="1020.2" cy="476.2" r="2.9" fill="url(#m2)"/>
<circle cx="1039.4" cy="477.4" r="2.9" fill="url(#m2)"/>
<circle cx="1068.1" cy="476.5" r="2.9" fill="url(#m2)"/>
<polyline points="787.60,496.00 788.90,485.20 790.30,464.40 792.40,396.30 796.30,397.80 802.20,431.90 808.10,454.10 814.00,479.30 818.50,470.40 825.90,476.30 833.30,476.30 839.80,470.40 846.60,471.90 854.00,476.30 862.90,481.60 871.80,480.70 880.70,482.20 893.40,483.70 908.80,482.00 922.50,485.10 934.50,483.00 950.50,484.70 968.50,482.50 981.60,484.70 997.90,484.20 1017.60,483.40 1036.50,484.20 1060.40,483.00" fill="none" stroke="#a84a62" stroke-width="1.0" stroke-linejoin="round"/>
<circle cx="787.6" cy="496.0" r="2.9" fill="url(#m4)"/>
<circle cx="788.9" cy="485.2" r="2.9" fill="url(#m4)"/>
<circle cx="790.3" cy="464.4" r="2.9" fill="url(#m4)"/>
<circle cx="792.4" cy="396.3" r="2.9" fill="url(#m4)"/>
<circle cx="796.3" cy="397.8" r="2.9" fill="url(#m4)"/>
<circle cx="802.2" cy="431.9" r="2.9" fill="url(#m4)"/>
<circle cx="808.1" cy="454.1" r="2.9" fill="url(#m4)"/>
<circle cx="814.0" cy="479.3" r="2.9" fill="url(#m4)"/>
<circle cx="818.5" cy="470.4" r="2.9" fill="url(#m4)"/>
<circle cx="825.9" cy="476.3" r="2.9" fill="url(#m4)"/>
<circle cx="833.3" cy="476.3" r="2.9" fill="url(#m4)"/>
<circle cx="839.8" cy="470.4" r="2.9" fill="url(#m4)"/>
<circle cx="846.6" cy="471.9" r="2.9" fill="url(#m4)"/>
<circle cx="854.0" cy="476.3" r="2.9" fill="url(#m4)"/>
<circle cx="862.9" cy="481.6" r="2.9" fill="url(#m4)"/>
<circle cx="871.8" cy="480.7" r="2.9" fill="url(#m4)"/>
<circle cx="880.7" cy="482.2" r="2.9" fill="url(#m4)"/>
<circle cx="893.4" cy="483.7" r="2.9" fill="url(#m4)"/>
<circle cx="908.8" cy="482.0" r="2.9" fill="url(#m4)"/>
<circle cx="922.5" cy="485.1" r="2.9" fill="url(#m4)"/>
<circle cx="934.5" cy="483.0" r="2.9" fill="url(#m4)"/>
<circle cx="950.5" cy="484.7" r="2.9" fill="url(#m4)"/>
<circle cx="968.5" cy="482.5" r="2.9" fill="url(#m4)"/>
<circle cx="981.6" cy="484.7" r="2.9" fill="url(#m4)"/>
<circle cx="997.9" cy="484.2" r="2.9" fill="url(#m4)"/>
<circle cx="1017.6" cy="483.4" r="2.9" fill="url(#m4)"/>
<circle cx="1036.5" cy="484.2" r="2.9" fill="url(#m4)"/>
<circle cx="1060.4" cy="483.0" r="2.9" fill="url(#m4)"/>
<polyline points="787.40,500.00 788.60,498.00 790.30,492.60 792.40,461.50 795.40,434.80 799.20,461.50 803.70,476.90 808.10,486.70 814.00,478.70 820.00,485.20 824.40,485.20 830.30,478.70 836.30,481.60 840.70,485.20 849.60,482.80 855.50,488.10 865.90,488.10 877.70,485.20 888.10,488.10 901.10,488.20 916.50,490.20 933.70,488.50 946.50,489.90 963.70,487.70 982.00,488.50 999.60,488.20 1021.40,488.90 1049.30,485.90" fill="none" stroke="#e0343a" stroke-width="1.0" stroke-linejoin="round"/>
<circle cx="787.4" cy="500.0" r="2.9" fill="url(#m8)"/>
<circle cx="788.6" cy="498.0" r="2.9" fill="url(#m8)"/>
<circle cx="790.3" cy="492.6" r="2.9" fill="url(#m8)"/>
<circle cx="792.4" cy="461.5" r="2.9" fill="url(#m8)"/>
<circle cx="795.4" cy="434.8" r="2.9" fill="url(#m8)"/>
<circle cx="799.2" cy="461.5" r="2.9" fill="url(#m8)"/>
<circle cx="803.7" cy="476.9" r="2.9" fill="url(#m8)"/>
<circle cx="808.1" cy="486.7" r="2.9" fill="url(#m8)"/>
<circle cx="814.0" cy="478.7" r="2.9" fill="url(#m8)"/>
<circle cx="820.0" cy="485.2" r="2.9" fill="url(#m8)"/>
<circle cx="824.4" cy="485.2" r="2.9" fill="url(#m8)"/>
<circle cx="830.3" cy="478.7" r="2.9" fill="url(#m8)"/>
<circle cx="836.3" cy="481.6" r="2.9" fill="url(#m8)"/>
<circle cx="840.7" cy="485.2" r="2.9" fill="url(#m8)"/>
<circle cx="849.6" cy="482.8" r="2.9" fill="url(#m8)"/>
<circle cx="855.5" cy="488.1" r="2.9" fill="url(#m8)"/>
<circle cx="865.9" cy="488.1" r="2.9" fill="url(#m8)"/>
<circle cx="877.7" cy="485.2" r="2.9" fill="url(#m8)"/>
<circle cx="888.1" cy="488.1" r="2.9" fill="url(#m8)"/>
<circle cx="901.1" cy="488.2" r="2.9" fill="url(#m8)"/>
<circle cx="916.5" cy="490.2" r="2.9" fill="url(#m8)"/>
<circle cx="933.7" cy="488.5" r="2.9" fill="url(#m8)"/>
<circle cx="946.5" cy="489.9" r="2.9" fill="url(#m8)"/>
<circle cx="963.7" cy="487.7" r="2.9" fill="url(#m8)"/>
<circle cx="982.0" cy="488.5" r="2.9" fill="url(#m8)"/>
<circle cx="999.6" cy="488.2" r="2.9" fill="url(#m8)"/>
<circle cx="1021.4" cy="488.9" r="2.9" fill="url(#m8)"/>
<circle cx="1049.3" cy="485.9" r="2.9" fill="url(#m8)"/>
<line x1="967.30" y1="320.30" x2="995.50" y2="320.30" stroke="#6e5a70" stroke-width="1.2"/>
<circle cx="981.5" cy="320.3" r="2.9" fill="url(#m2)"/>
<text x="999.30" y="324.50" font-size="12.5" text-anchor="start" fill="#262626" stroke="#262626" stroke-width="0.3">Ni-DMAP-2</text>
<line x1="967.30" y1="336.00" x2="995.50" y2="336.00" stroke="#a84a62" stroke-width="1.2"/>
<circle cx="981.5" cy="336.0" r="2.9" fill="url(#m4)"/>
<text x="999.30" y="340.20" font-size="12.5" text-anchor="start" fill="#262626" stroke="#262626" stroke-width="0.3">Ni-DMAP-4</text>
<line x1="967.30" y1="351.70" x2="995.50" y2="351.70" stroke="#e0343a" stroke-width="1.2"/>
<circle cx="981.5" cy="351.7" r="2.9" fill="url(#m8)"/>
<text x="999.30" y="355.90" font-size="12.5" text-anchor="start" fill="#262626" stroke="#262626" stroke-width="0.3">Ni-DMAP-8</text>
</svg></body></html>
